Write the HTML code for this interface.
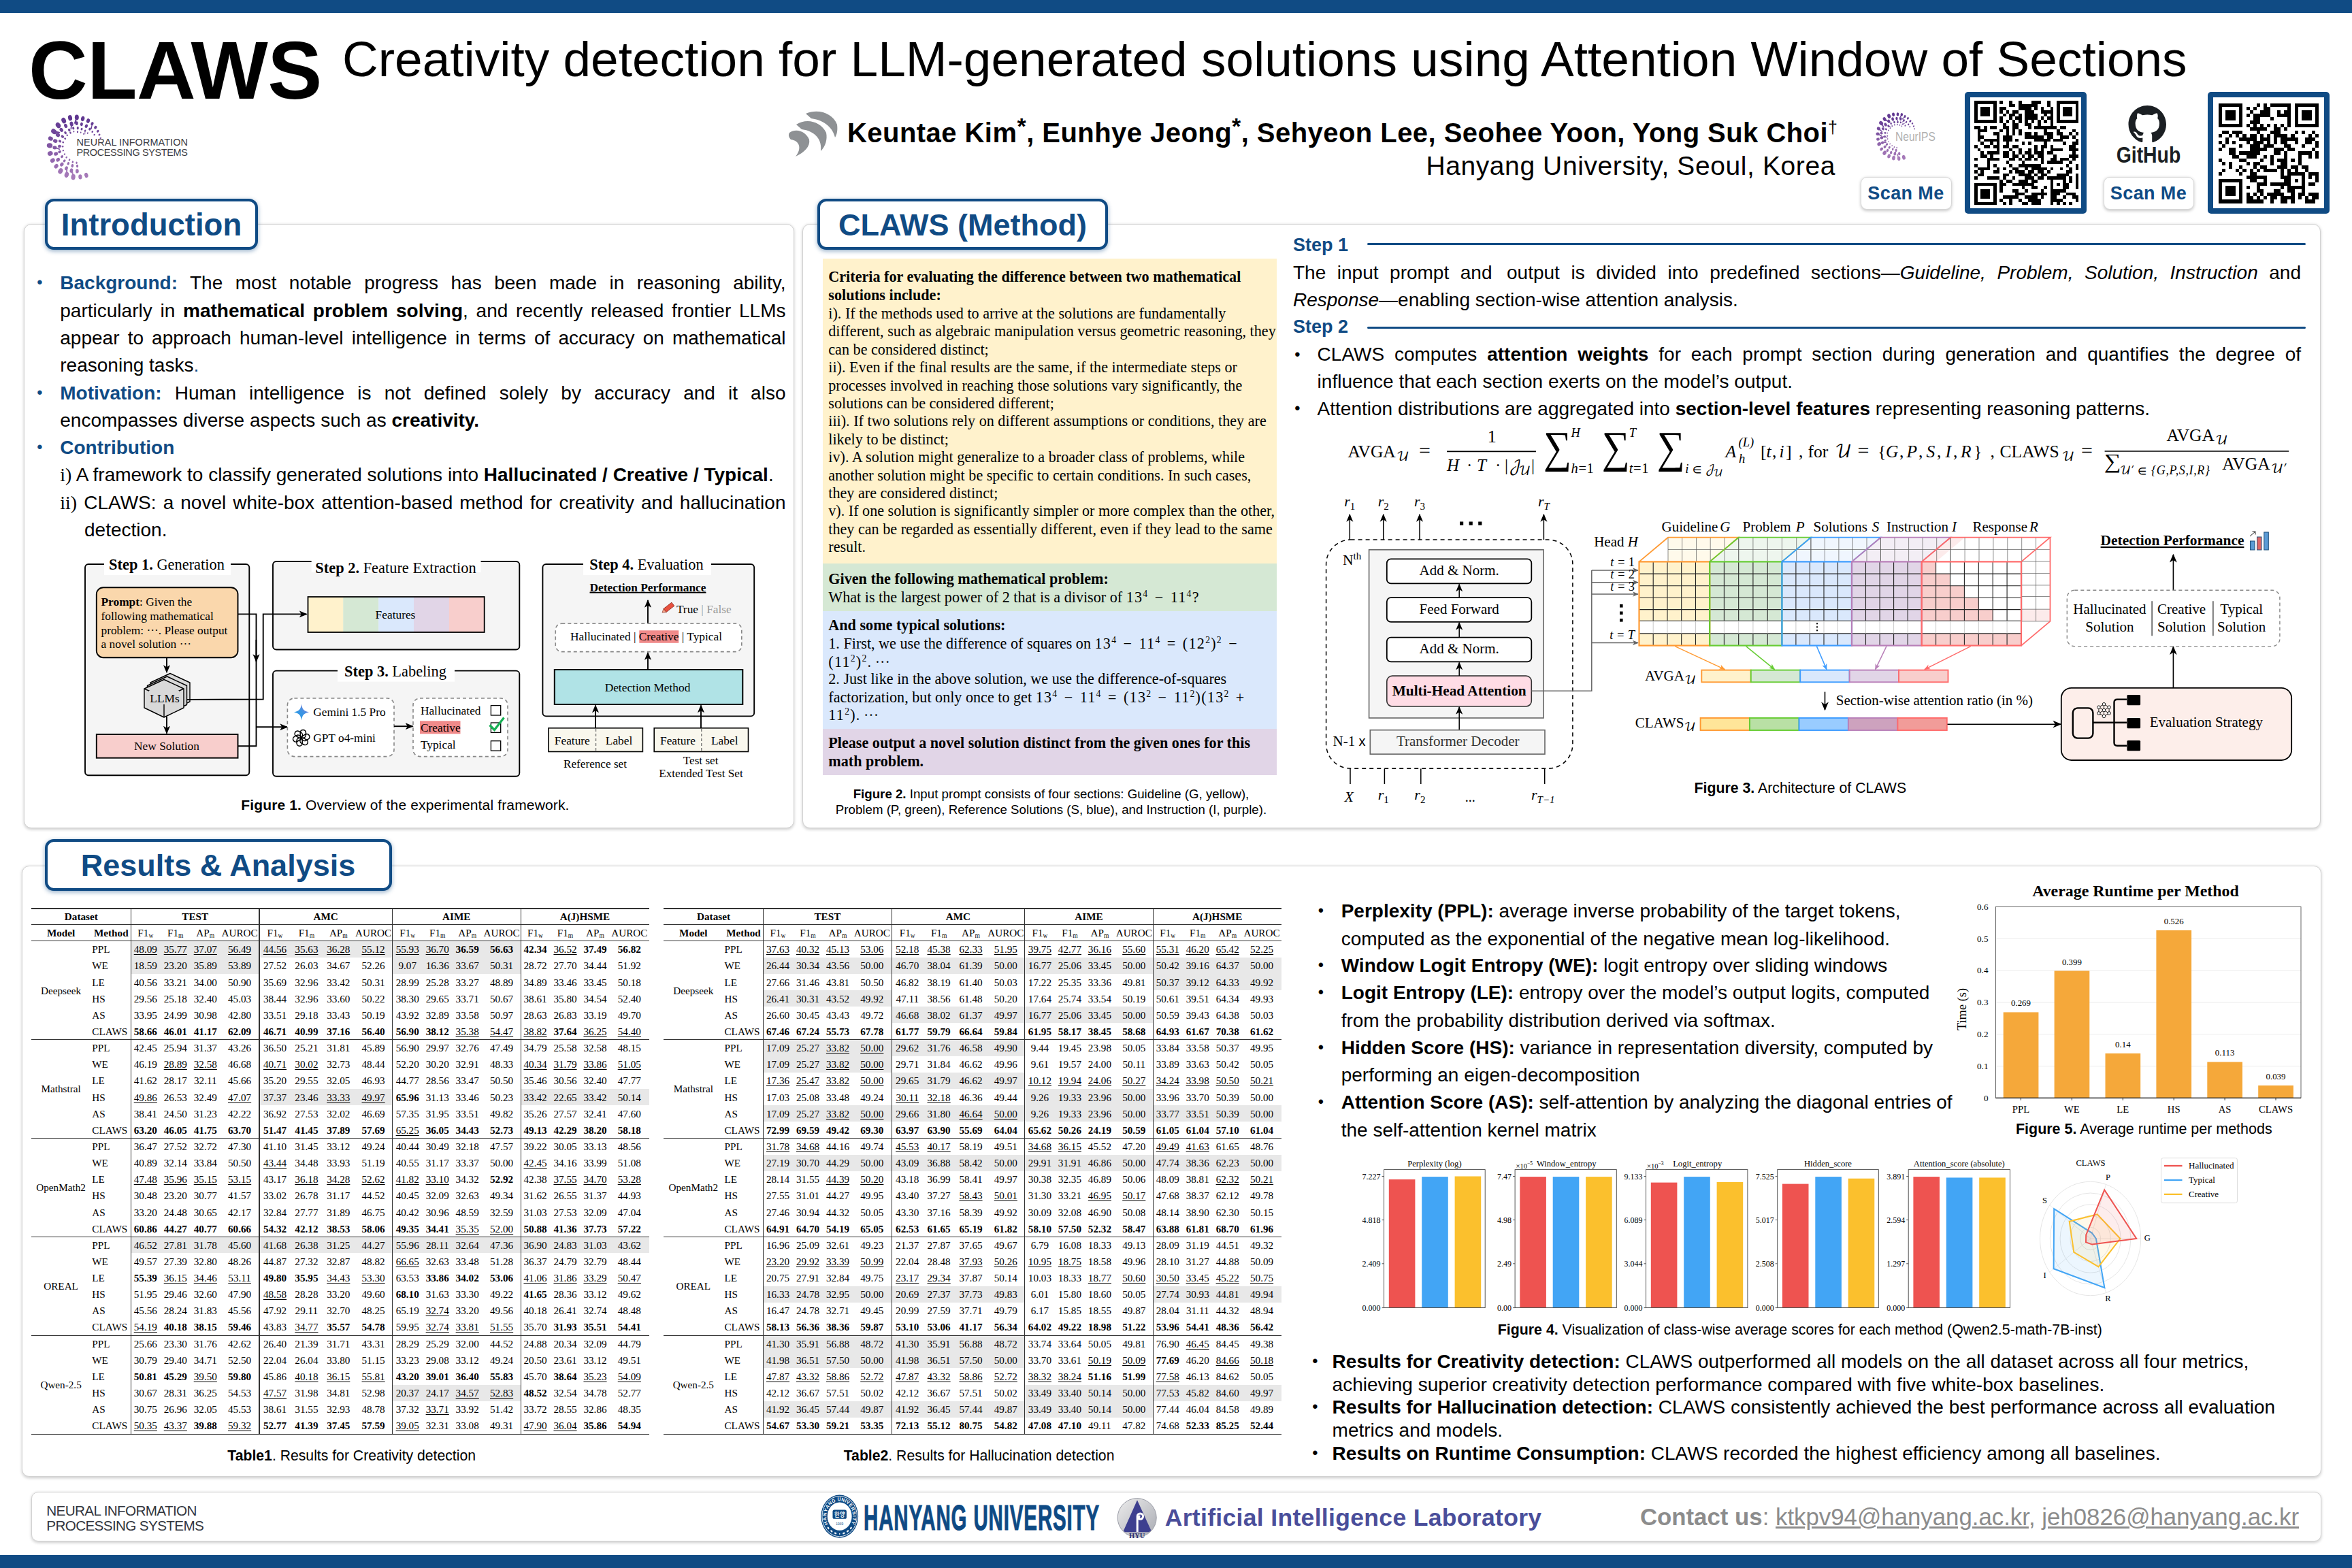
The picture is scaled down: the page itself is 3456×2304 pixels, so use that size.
<!DOCTYPE html>
<html lang="en">
<head>
<meta charset="utf-8">
<title>CLAWS: Creativity detection for LLM-generated solutions using Attention Window of Sections</title>
<style>
html,body{margin:0;padding:0;}
body{width:3456px;height:2304px;overflow:hidden;background:#fff;position:relative;font-family:"Liberation Sans",sans-serif;color:#000;}
.abs{position:absolute;}
.sans{font-family:"Liberation Sans",sans-serif;}
.serif{font-family:"Liberation Serif",serif;}
.mth{font-family:"DejaVu Math TeX Gyre","DejaVu Serif",serif;}
.bar{position:absolute;left:0;width:3456px;background:#104b84;}
.panel{position:absolute;background:#fff;border:1.5px solid #d2d2d2;border-radius:11px;box-shadow:0 1.5px 4px rgba(0,0,0,0.2);box-sizing:border-box;}
.tab{position:absolute;background:#fff;border:4.6px solid #104b84;border-radius:13px;box-sizing:border-box;box-shadow:0 2px 6px rgba(16,75,132,0.45);color:#104b84;font-weight:bold;text-align:center;white-space:nowrap;}
.blue{color:#104b84;}
b,.b{font-weight:bold;}
.t{position:absolute;white-space:nowrap;line-height:1;}
.just{text-align:justify;text-align-last:justify;}
svg{position:absolute;overflow:visible;}
svg text{white-space:pre;}
</style>
</head>
<body>
<div class="bar" style="top:0;height:18.5px"></div>
<div class="bar" style="top:2285px;height:19px"></div>
<div class="t sans" style="left:42.0px;top:43.4px;font-size:120px;font-weight:bold;color:#000;letter-spacing:-0.5px;">CLAWS</div>
<div class="t sans" style="left:503.0px;top:50.2px;font-size:73px;font-weight:normal;color:#000;">Creativity detection for LLM-generated solutions using Attention Window of Sections</div>
<svg style="left:70px;top:169px" width="86" height="94" viewBox="-1.05 -1.05 2.1 2.1" preserveAspectRatio="none"><ellipse cx="0.849" cy="-0.292" rx="0.024" ry="0.031" transform="rotate(71 0.849 -0.292)" fill="#784e9e"/><ellipse cx="0.805" cy="-0.400" rx="0.030" ry="0.038" transform="rotate(64 0.805 -0.400)" fill="#744a9c"/><ellipse cx="0.750" cy="-0.518" rx="0.038" ry="0.048" transform="rotate(55 0.750 -0.518)" fill="#6f469a"/><ellipse cx="0.667" cy="-0.642" rx="0.046" ry="0.058" transform="rotate(46 0.667 -0.642)" fill="#6b4197"/><ellipse cx="0.549" cy="-0.765" rx="0.047" ry="0.060" transform="rotate(36 0.549 -0.765)" fill="#663d94"/><line x1="0.549" y1="-0.765" x2="0.516" y2="-0.598" stroke="#663d94" stroke-width="0.030" stroke-linecap="round"/><ellipse cx="0.403" cy="-0.860" rx="0.060" ry="0.076" transform="rotate(25 0.403 -0.860)" fill="#633992"/><ellipse cx="0.211" cy="-0.928" rx="0.065" ry="0.083" transform="rotate(13 0.211 -0.928)" fill="#603791"/><ellipse cx="-0.004" cy="-0.971" rx="0.073" ry="0.092" transform="rotate(-0 -0.004 -0.971)" fill="#5f3690"/><line x1="-0.004" y1="-0.971" x2="-0.074" y2="-0.786" stroke="#5f3690" stroke-width="0.047" stroke-linecap="round"/><ellipse cx="-0.244" cy="-0.955" rx="0.073" ry="0.093" transform="rotate(-14 -0.244 -0.955)" fill="#5f3690"/><ellipse cx="-0.472" cy="-0.870" rx="0.078" ry="0.099" transform="rotate(-28 -0.472 -0.870)" fill="#623992"/><ellipse cx="-0.671" cy="-0.712" rx="0.080" ry="0.101" transform="rotate(-43 -0.671 -0.712)" fill="#683f96"/><ellipse cx="-0.826" cy="-0.509" rx="0.081" ry="0.103" transform="rotate(-58 -0.826 -0.509)" fill="#70469a"/><line x1="-0.826" y1="-0.509" x2="-0.633" y2="-0.473" stroke="#70469a" stroke-width="0.053" stroke-linecap="round"/><ellipse cx="-0.944" cy="-0.277" rx="0.069" ry="0.087" transform="rotate(-74 -0.944 -0.277)" fill="#784e9f"/><ellipse cx="-0.977" cy="-0.048" rx="0.081" ry="0.103" transform="rotate(-87 -0.977 -0.048)" fill="#8156a3"/><ellipse cx="-0.958" cy="0.211" rx="0.075" ry="0.096" transform="rotate(-102 -0.958 0.211)" fill="#8a5fa9"/><ellipse cx="-0.871" cy="0.441" rx="0.068" ry="0.087" transform="rotate(-117 -0.871 0.441)" fill="#9368ae"/><ellipse cx="-0.743" cy="0.631" rx="0.064" ry="0.082" transform="rotate(-130 -0.743 0.631)" fill="#9a6eb2"/><ellipse cx="-0.589" cy="0.789" rx="0.078" ry="0.099" transform="rotate(-143 -0.589 0.789)" fill="#a074b5"/><ellipse cx="-0.368" cy="0.910" rx="0.075" ry="0.095" transform="rotate(-158 -0.368 0.910)" fill="#a478b8"/><line x1="-0.368" y1="0.910" x2="-0.360" y2="0.703" stroke="#a478b8" stroke-width="0.048" stroke-linecap="round"/><ellipse cx="-0.132" cy="0.983" rx="0.076" ry="0.097" transform="rotate(-172 -0.132 0.983)" fill="#a77bb9"/><line x1="-0.132" y1="0.983" x2="-0.175" y2="0.770" stroke="#a77bb9" stroke-width="0.049" stroke-linecap="round"/><ellipse cx="0.120" cy="0.981" rx="0.065" ry="0.082" transform="rotate(-187 0.120 0.981)" fill="#a77bb9"/><ellipse cx="0.337" cy="0.928" rx="0.065" ry="0.083" transform="rotate(-200 0.337 0.928)" fill="#a579b8"/><ellipse cx="0.627" cy="-0.401" rx="0.026" ry="0.032" transform="rotate(57 0.627 -0.401)" fill="#744a9c"/><ellipse cx="0.556" cy="-0.501" rx="0.028" ry="0.036" transform="rotate(48 0.556 -0.501)" fill="#70469a"/><ellipse cx="0.463" cy="-0.590" rx="0.040" ry="0.050" transform="rotate(38 0.463 -0.590)" fill="#6d4398"/><ellipse cx="0.338" cy="-0.685" rx="0.050" ry="0.063" transform="rotate(26 0.338 -0.685)" fill="#694096"/><ellipse cx="0.168" cy="-0.746" rx="0.048" ry="0.061" transform="rotate(13 0.168 -0.746)" fill="#673e95"/><ellipse cx="-0.008" cy="-0.779" rx="0.051" ry="0.064" transform="rotate(-1 -0.008 -0.779)" fill="#663c94"/><ellipse cx="-0.193" cy="-0.757" rx="0.062" ry="0.079" transform="rotate(-14 -0.193 -0.757)" fill="#663d95"/><line x1="-0.193" y1="-0.757" x2="-0.210" y2="-0.594" stroke="#663d95" stroke-width="0.040" stroke-linecap="round"/><ellipse cx="-0.400" cy="-0.694" rx="0.057" ry="0.073" transform="rotate(-30 -0.400 -0.694)" fill="#693f96"/><ellipse cx="-0.556" cy="-0.560" rx="0.058" ry="0.074" transform="rotate(-45 -0.556 -0.560)" fill="#6e4499"/><ellipse cx="-0.685" cy="-0.398" rx="0.063" ry="0.080" transform="rotate(-60 -0.685 -0.398)" fill="#744a9c"/><ellipse cx="-0.776" cy="-0.199" rx="0.062" ry="0.079" transform="rotate(-76 -0.776 -0.199)" fill="#7b51a0"/><ellipse cx="-0.795" cy="0.018" rx="0.059" ry="0.075" transform="rotate(-91 -0.795 0.018)" fill="#8359a5"/><line x1="-0.795" y1="0.018" x2="-0.626" y2="0.071" stroke="#8359a5" stroke-width="0.038" stroke-linecap="round"/><ellipse cx="-0.752" cy="0.223" rx="0.059" ry="0.075" transform="rotate(-106 -0.752 0.223)" fill="#8b60a9"/><ellipse cx="-0.678" cy="0.419" rx="0.058" ry="0.073" transform="rotate(-122 -0.678 0.419)" fill="#9267ad"/><ellipse cx="-0.541" cy="0.572" rx="0.057" ry="0.073" transform="rotate(-137 -0.541 0.572)" fill="#986cb1"/><ellipse cx="-0.379" cy="0.697" rx="0.054" ry="0.069" transform="rotate(-151 -0.379 0.697)" fill="#9c71b3"/><ellipse cx="-0.197" cy="0.775" rx="0.058" ry="0.074" transform="rotate(-166 -0.197 0.775)" fill="#9f74b5"/><ellipse cx="0.010" cy="0.790" rx="0.057" ry="0.072" transform="rotate(-181 0.010 0.790)" fill="#a074b5"/><ellipse cx="0.385" cy="-0.456" rx="0.023" ry="0.029" transform="rotate(40 0.385 -0.456)" fill="#72489b"/><ellipse cx="0.295" cy="-0.534" rx="0.029" ry="0.037" transform="rotate(29 0.295 -0.534)" fill="#6f4599"/><line x1="0.295" y1="-0.534" x2="0.286" y2="-0.422" stroke="#6f4599" stroke-width="0.019" stroke-linecap="round"/><ellipse cx="0.173" cy="-0.588" rx="0.034" ry="0.043" transform="rotate(16 0.173 -0.588)" fill="#6d4398"/><ellipse cx="0.031" cy="-0.621" rx="0.038" ry="0.049" transform="rotate(3 0.031 -0.621)" fill="#6c4297"/><ellipse cx="-0.128" cy="-0.618" rx="0.038" ry="0.048" transform="rotate(-12 -0.128 -0.618)" fill="#6c4298"/><ellipse cx="-0.275" cy="-0.559" rx="0.041" ry="0.052" transform="rotate(-26 -0.275 -0.559)" fill="#6e4499"/><ellipse cx="-0.412" cy="-0.467" rx="0.040" ry="0.051" transform="rotate(-41 -0.412 -0.467)" fill="#71479b"/><ellipse cx="-0.517" cy="-0.343" rx="0.046" ry="0.058" transform="rotate(-56 -0.517 -0.343)" fill="#764c9d"/><ellipse cx="-0.609" cy="-0.191" rx="0.042" ry="0.053" transform="rotate(-73 -0.609 -0.191)" fill="#7b51a0"/><ellipse cx="-0.622" cy="-0.023" rx="0.048" ry="0.061" transform="rotate(-88 -0.622 -0.023)" fill="#8257a4"/><ellipse cx="-0.619" cy="0.160" rx="0.045" ry="0.058" transform="rotate(-104 -0.619 0.160)" fill="#885ea8"/><ellipse cx="-0.535" cy="0.315" rx="0.040" ry="0.051" transform="rotate(-121 -0.535 0.315)" fill="#8e63ab"/><ellipse cx="-0.447" cy="0.455" rx="0.040" ry="0.051" transform="rotate(-136 -0.447 0.455)" fill="#9368ae"/><ellipse cx="-0.309" cy="0.543" rx="0.040" ry="0.051" transform="rotate(-150 -0.309 0.543)" fill="#976bb0"/><ellipse cx="-0.162" cy="0.616" rx="0.045" ry="0.057" transform="rotate(-165 -0.162 0.616)" fill="#996eb1"/><ellipse cx="0.014" cy="0.625" rx="0.039" ry="0.050" transform="rotate(-181 0.014 0.625)" fill="#9a6eb2"/><ellipse cx="0.237" cy="-0.429" rx="0.018" ry="0.023" transform="rotate(29 0.237 -0.429)" fill="#73499b"/><ellipse cx="0.139" cy="-0.477" rx="0.021" ry="0.027" transform="rotate(16 0.139 -0.477)" fill="#71479a"/><ellipse cx="0.024" cy="-0.497" rx="0.028" ry="0.035" transform="rotate(3 0.024 -0.497)" fill="#70469a"/><ellipse cx="-0.112" cy="-0.508" rx="0.023" ry="0.029" transform="rotate(-12 -0.112 -0.508)" fill="#70469a"/><ellipse cx="-0.232" cy="-0.467" rx="0.030" ry="0.038" transform="rotate(-26 -0.232 -0.467)" fill="#71479b"/><ellipse cx="-0.349" cy="-0.386" rx="0.026" ry="0.033" transform="rotate(-42 -0.349 -0.386)" fill="#744a9c"/><ellipse cx="-0.422" cy="-0.275" rx="0.030" ry="0.038" transform="rotate(-57 -0.422 -0.275)" fill="#784e9f"/><ellipse cx="-0.495" cy="-0.154" rx="0.029" ry="0.036" transform="rotate(-73 -0.495 -0.154)" fill="#7d53a1"/><ellipse cx="-0.510" cy="-0.017" rx="0.028" ry="0.036" transform="rotate(-88 -0.510 -0.017)" fill="#8257a4"/><ellipse cx="-0.492" cy="0.117" rx="0.025" ry="0.032" transform="rotate(-103 -0.492 0.117)" fill="#875ca7"/><ellipse cx="-0.441" cy="0.234" rx="0.025" ry="0.031" transform="rotate(-118 -0.441 0.234)" fill="#8b60a9"/><ellipse cx="-0.373" cy="0.340" rx="0.027" ry="0.035" transform="rotate(-132 -0.373 0.340)" fill="#8f64ac"/><ellipse cx="-0.268" cy="0.421" rx="0.029" ry="0.037" transform="rotate(-147 -0.268 0.421)" fill="#9267ad"/><ellipse cx="-0.150" cy="0.492" rx="0.030" ry="0.038" transform="rotate(-163 -0.150 0.492)" fill="#9569af"/><ellipse cx="-0.011" cy="0.519" rx="0.030" ry="0.038" transform="rotate(-179 -0.011 0.519)" fill="#966aaf"/></svg>
<div class="t sans" style="left:112.5px;top:201.6px;font-size:14.4px;font-weight:normal;color:#3a3a3f;letter-spacing:0.11px;">NEURAL INFORMATION</div>
<div class="t sans" style="left:112.5px;top:217.4px;font-size:14.4px;font-weight:normal;color:#3a3a3f;letter-spacing:-0.32px;">PROCESSING SYSTEMS</div>
<svg style="left:1158px;top:161px" width="74" height="70" viewBox="0 0 74 70">
<g fill="#8e9194">
<path d="M26 6 C45 -2 66 6 72 22 C73 30 72 36 69 41 C66 28 55 16 34 13 Z"/>
<path d="M12 22 C28 12 48 18 56 34 C58 44 55 54 48 61 C50 46 42 32 20 29 Z"/>
<path d="M2 34 C12 27 26 32 31 44 C33 54 24 63 11 69 C20 58 18 46 4 44 C1 41 0 37 2 34 Z"/>
</g></svg>
<div class="t sans" style="left:1245.0px;top:174.9px;font-size:40px;font-weight:bold;color:#000;letter-spacing:0.45px;">Keuntae Kim<sup style="font-size:34px;vertical-align:0;position:relative;top:-12px;line-height:0">*</sup>, Eunhye Jeong<sup style="font-size:34px;vertical-align:0;position:relative;top:-12px;line-height:0">*</sup>, Sehyeon Lee, Seohee Yoon, Yong Suk Choi<span style="font-size:25px;font-weight:normal;position:relative;top:-13px;line-height:0">†</span></div>
<div class="t sans" style="right:759.0px;top:224.0px;font-size:39px;font-weight:normal;color:#000;letter-spacing:0.6px;">Hanyang University, Seoul, Korea</div>
<svg style="left:2757px;top:165px" width="62" height="70" viewBox="-1.05 -1.05 2.1 2.1" preserveAspectRatio="none"><ellipse cx="0.852" cy="-0.318" rx="0.027" ry="0.034" transform="rotate(70 0.852 -0.318)" fill="#774d9e"/><ellipse cx="0.811" cy="-0.436" rx="0.032" ry="0.041" transform="rotate(62 0.811 -0.436)" fill="#72499b"/><ellipse cx="0.745" cy="-0.557" rx="0.036" ry="0.045" transform="rotate(53 0.745 -0.557)" fill="#6e4499"/><ellipse cx="0.641" cy="-0.659" rx="0.046" ry="0.059" transform="rotate(44 0.641 -0.659)" fill="#6a4197"/><ellipse cx="0.523" cy="-0.782" rx="0.045" ry="0.057" transform="rotate(34 0.523 -0.782)" fill="#663c94"/><ellipse cx="0.375" cy="-0.866" rx="0.048" ry="0.061" transform="rotate(23 0.375 -0.866)" fill="#623992"/><line x1="0.375" y1="-0.866" x2="0.248" y2="-0.750" stroke="#623992" stroke-width="0.031" stroke-linecap="round"/><ellipse cx="0.214" cy="-0.945" rx="0.056" ry="0.072" transform="rotate(13 0.214 -0.945)" fill="#603691"/><line x1="0.214" y1="-0.945" x2="0.104" y2="-0.783" stroke="#603691" stroke-width="0.037" stroke-linecap="round"/><ellipse cx="0.015" cy="-0.962" rx="0.063" ry="0.080" transform="rotate(1 0.015 -0.962)" fill="#5f3690"/><ellipse cx="-0.200" cy="-0.952" rx="0.068" ry="0.086" transform="rotate(-12 -0.200 -0.952)" fill="#5f3690"/><ellipse cx="-0.416" cy="-0.882" rx="0.081" ry="0.103" transform="rotate(-25 -0.416 -0.882)" fill="#623992"/><ellipse cx="-0.640" cy="-0.748" rx="0.074" ry="0.095" transform="rotate(-41 -0.640 -0.748)" fill="#673d95"/><line x1="-0.640" y1="-0.748" x2="-0.457" y2="-0.644" stroke="#673d95" stroke-width="0.048" stroke-linecap="round"/><ellipse cx="-0.809" cy="-0.569" rx="0.083" ry="0.106" transform="rotate(-55 -0.809 -0.569)" fill="#6d4499"/><line x1="-0.809" y1="-0.569" x2="-0.684" y2="-0.395" stroke="#6d4499" stroke-width="0.054" stroke-linecap="round"/><ellipse cx="-0.933" cy="-0.332" rx="0.072" ry="0.091" transform="rotate(-70 -0.933 -0.332)" fill="#764c9e"/><line x1="-0.933" y1="-0.332" x2="-0.765" y2="-0.197" stroke="#764c9e" stroke-width="0.047" stroke-linecap="round"/><ellipse cx="-0.978" cy="-0.096" rx="0.070" ry="0.089" transform="rotate(-84 -0.978 -0.096)" fill="#7f55a2"/><line x1="-0.978" y1="-0.096" x2="-0.790" y2="-0.006" stroke="#7f55a2" stroke-width="0.045" stroke-linecap="round"/><ellipse cx="-0.967" cy="0.137" rx="0.065" ry="0.082" transform="rotate(-98 -0.967 0.137)" fill="#885da7"/><ellipse cx="-0.907" cy="0.350" rx="0.078" ry="0.099" transform="rotate(-111 -0.907 0.350)" fill="#8f64ac"/><ellipse cx="-0.790" cy="0.571" rx="0.067" ry="0.085" transform="rotate(-126 -0.790 0.571)" fill="#986cb0"/><ellipse cx="-0.638" cy="0.739" rx="0.083" ry="0.105" transform="rotate(-139 -0.638 0.739)" fill="#9e72b4"/><ellipse cx="-0.419" cy="0.884" rx="0.075" ry="0.095" transform="rotate(-155 -0.419 0.884)" fill="#a377b7"/><ellipse cx="-0.186" cy="0.961" rx="0.081" ry="0.102" transform="rotate(-169 -0.186 0.961)" fill="#a67ab9"/><ellipse cx="0.073" cy="0.988" rx="0.076" ry="0.097" transform="rotate(-184 0.073 0.988)" fill="#a77bb9"/><line x1="0.073" y1="0.988" x2="-0.013" y2="0.790" stroke="#a77bb9" stroke-width="0.049" stroke-linecap="round"/><ellipse cx="0.319" cy="0.938" rx="0.082" ry="0.105" transform="rotate(-199 0.319 0.938)" fill="#a579b8"/><ellipse cx="0.622" cy="-0.410" rx="0.028" ry="0.035" transform="rotate(57 0.622 -0.410)" fill="#73499c"/><ellipse cx="0.549" cy="-0.516" rx="0.035" ry="0.044" transform="rotate(47 0.549 -0.516)" fill="#6f469a"/><ellipse cx="0.448" cy="-0.622" rx="0.034" ry="0.043" transform="rotate(36 0.448 -0.622)" fill="#6b4297"/><line x1="0.448" y1="-0.622" x2="0.320" y2="-0.542" stroke="#6b4297" stroke-width="0.022" stroke-linecap="round"/><ellipse cx="0.321" cy="-0.691" rx="0.045" ry="0.057" transform="rotate(25 0.321 -0.691)" fill="#693f96"/><line x1="0.321" y1="-0.691" x2="0.213" y2="-0.593" stroke="#693f96" stroke-width="0.029" stroke-linecap="round"/><ellipse cx="0.164" cy="-0.759" rx="0.057" ry="0.073" transform="rotate(12 0.164 -0.759)" fill="#663d95"/><ellipse cx="-0.036" cy="-0.780" rx="0.056" ry="0.071" transform="rotate(-3 -0.036 -0.780)" fill="#663c94"/><line x1="-0.036" y1="-0.780" x2="0.028" y2="-0.629" stroke="#663c94" stroke-width="0.036" stroke-linecap="round"/><ellipse cx="-0.234" cy="-0.750" rx="0.064" ry="0.081" transform="rotate(-17 -0.234 -0.750)" fill="#673d95"/><ellipse cx="-0.428" cy="-0.652" rx="0.064" ry="0.081" transform="rotate(-33 -0.428 -0.652)" fill="#6a4197"/><ellipse cx="-0.590" cy="-0.508" rx="0.067" ry="0.085" transform="rotate(-49 -0.590 -0.508)" fill="#70469a"/><ellipse cx="-0.715" cy="-0.321" rx="0.058" ry="0.073" transform="rotate(-66 -0.715 -0.321)" fill="#774d9e"/><ellipse cx="-0.791" cy="-0.129" rx="0.054" ry="0.069" transform="rotate(-81 -0.791 -0.129)" fill="#7e53a2"/><ellipse cx="-0.783" cy="0.070" rx="0.065" ry="0.083" transform="rotate(-95 -0.783 0.070)" fill="#855aa6"/><line x1="-0.783" y1="0.070" x2="-0.630" y2="-0.000" stroke="#855aa6" stroke-width="0.042" stroke-linecap="round"/><ellipse cx="-0.742" cy="0.290" rx="0.062" ry="0.079" transform="rotate(-111 -0.742 0.290)" fill="#8d62ab"/><line x1="-0.742" y1="0.290" x2="-0.564" y2="0.281" stroke="#8d62ab" stroke-width="0.040" stroke-linecap="round"/><ellipse cx="-0.622" cy="0.470" rx="0.058" ry="0.074" transform="rotate(-127 -0.622 0.470)" fill="#9469ae"/><ellipse cx="-0.492" cy="0.631" rx="0.054" ry="0.069" transform="rotate(-142 -0.492 0.631)" fill="#9a6eb2"/><ellipse cx="-0.316" cy="0.725" rx="0.055" ry="0.070" transform="rotate(-156 -0.316 0.725)" fill="#9d72b4"/><ellipse cx="-0.125" cy="0.776" rx="0.063" ry="0.081" transform="rotate(-171 -0.125 0.776)" fill="#9f74b5"/><line x1="-0.125" y1="0.776" x2="-0.044" y2="0.628" stroke="#9f74b5" stroke-width="0.041" stroke-linecap="round"/><ellipse cx="0.092" cy="0.776" rx="0.059" ry="0.075" transform="rotate(-187 0.092 0.776)" fill="#9f74b5"/><ellipse cx="0.388" cy="-0.462" rx="0.030" ry="0.038" transform="rotate(40 0.388 -0.462)" fill="#71489b"/><ellipse cx="0.275" cy="-0.532" rx="0.030" ry="0.038" transform="rotate(27 0.275 -0.532)" fill="#6f4599"/><line x1="0.275" y1="-0.532" x2="0.193" y2="-0.472" stroke="#6f4599" stroke-width="0.019" stroke-linecap="round"/><ellipse cx="0.157" cy="-0.604" rx="0.032" ry="0.040" transform="rotate(15 0.157 -0.604)" fill="#6c4398"/><ellipse cx="0.016" cy="-0.614" rx="0.042" ry="0.054" transform="rotate(1 0.016 -0.614)" fill="#6c4298"/><ellipse cx="-0.153" cy="-0.615" rx="0.044" ry="0.056" transform="rotate(-14 -0.153 -0.615)" fill="#6c4298"/><ellipse cx="-0.319" cy="-0.557" rx="0.041" ry="0.052" transform="rotate(-30 -0.319 -0.557)" fill="#6e4499"/><ellipse cx="-0.442" cy="-0.444" rx="0.049" ry="0.062" transform="rotate(-45 -0.442 -0.444)" fill="#72489b"/><line x1="-0.442" y1="-0.444" x2="-0.326" y2="-0.392" stroke="#72489b" stroke-width="0.032" stroke-linecap="round"/><ellipse cx="-0.560" cy="-0.302" rx="0.043" ry="0.055" transform="rotate(-62 -0.560 -0.302)" fill="#774d9e"/><ellipse cx="-0.610" cy="-0.137" rx="0.041" ry="0.052" transform="rotate(-77 -0.610 -0.137)" fill="#7d53a2"/><ellipse cx="-0.626" cy="0.026" rx="0.046" ry="0.058" transform="rotate(-92 -0.626 0.026)" fill="#8359a5"/><line x1="-0.626" y1="0.026" x2="-0.506" y2="0.067" stroke="#8359a5" stroke-width="0.030" stroke-linecap="round"/><ellipse cx="-0.605" cy="0.203" rx="0.046" ry="0.059" transform="rotate(-109 -0.605 0.203)" fill="#8a5fa9"/><ellipse cx="-0.524" cy="0.365" rx="0.048" ry="0.061" transform="rotate(-125 -0.524 0.365)" fill="#9065ac"/><ellipse cx="-0.400" cy="0.501" rx="0.049" ry="0.063" transform="rotate(-141 -0.400 0.501)" fill="#956aaf"/><ellipse cx="-0.230" cy="0.578" rx="0.044" ry="0.056" transform="rotate(-158 -0.230 0.578)" fill="#986db1"/><ellipse cx="-0.065" cy="0.626" rx="0.049" ry="0.062" transform="rotate(-174 -0.065 0.626)" fill="#9a6eb2"/><ellipse cx="0.221" cy="-0.432" rx="0.020" ry="0.026" transform="rotate(27 0.221 -0.432)" fill="#73499b"/><ellipse cx="0.120" cy="-0.487" rx="0.024" ry="0.031" transform="rotate(14 0.120 -0.487)" fill="#70479a"/><ellipse cx="-0.003" cy="-0.506" rx="0.027" ry="0.034" transform="rotate(-0 -0.003 -0.506)" fill="#70469a"/><ellipse cx="-0.137" cy="-0.498" rx="0.028" ry="0.035" transform="rotate(-15 -0.137 -0.498)" fill="#70469a"/><ellipse cx="-0.262" cy="-0.444" rx="0.028" ry="0.035" transform="rotate(-31 -0.262 -0.444)" fill="#72489b"/><ellipse cx="-0.360" cy="-0.350" rx="0.023" ry="0.030" transform="rotate(-46 -0.360 -0.350)" fill="#764c9d"/><ellipse cx="-0.444" cy="-0.258" rx="0.026" ry="0.033" transform="rotate(-60 -0.444 -0.258)" fill="#794f9f"/><ellipse cx="-0.496" cy="-0.136" rx="0.025" ry="0.031" transform="rotate(-75 -0.496 -0.136)" fill="#7d53a2"/><ellipse cx="-0.499" cy="-0.008" rx="0.028" ry="0.035" transform="rotate(-89 -0.499 -0.008)" fill="#8258a4"/><ellipse cx="-0.488" cy="0.124" rx="0.027" ry="0.034" transform="rotate(-104 -0.488 0.124)" fill="#875ca7"/><ellipse cx="-0.438" cy="0.244" rx="0.024" ry="0.030" transform="rotate(-119 -0.438 0.244)" fill="#8c61aa"/><ellipse cx="-0.366" cy="0.344" rx="0.025" ry="0.032" transform="rotate(-133 -0.366 0.344)" fill="#8f64ac"/><ellipse cx="-0.266" cy="0.422" rx="0.025" ry="0.031" transform="rotate(-148 -0.266 0.422)" fill="#9267ad"/><ellipse cx="-0.156" cy="0.483" rx="0.027" ry="0.034" transform="rotate(-162 -0.156 0.483)" fill="#9469af"/><ellipse cx="-0.027" cy="0.511" rx="0.028" ry="0.035" transform="rotate(-177 -0.027 0.511)" fill="#956aaf"/></svg>
<div class="t sans" style="left:2785.0px;top:191.3px;font-size:19px;font-weight:normal;color:#b0b0b0;transform:scaleX(0.82);transform-origin:left;">NeurIPS</div>
<div class="abs" style="left:2733.5px;top:259.5px;width:134.0px;height:48.5px;box-sizing:border-box;border:1.5px solid #d8d8d8;border-radius:9px;background:#fff;box-shadow:0 1.5px 4px rgba(0,0,0,0.22);"></div>
<div class="t sans" style="left:2800.5px;transform:translateX(-50%);top:270.7px;font-size:27px;font-weight:bold;color:#104b84;letter-spacing:0.4px;">Scan Me</div>
<div class="abs" style="left:3090.5px;top:259.5px;width:133.0px;height:48.5px;box-sizing:border-box;border:1.5px solid #d8d8d8;border-radius:9px;background:#fff;box-shadow:0 1.5px 4px rgba(0,0,0,0.22);"></div>
<div class="t sans" style="left:3157.0px;transform:translateX(-50%);top:270.7px;font-size:27px;font-weight:bold;color:#104b84;letter-spacing:0.4px;">Scan Me</div>
<div class="abs" style="left:2887px;top:134.5px;width:179px;height:179.5px;background:#104b84;border-radius:5px;"></div><div class="abs" style="left:2895px;top:142.5px;width:163px;height:163.5px;background:#fff;"></div>
<svg style="left:2901px;top:148.3px" width="153.5" height="153.3" viewBox="0 0 33 33" shape-rendering="crispEdges"><path fill="#000" d="M0 0h7v1h-7zM8 0h1v1h-1zM11 0h1v1h-1zM14 0h1v1h-1zM18 0h3v1h-3zM23 0h1v1h-1zM26 0h7v1h-7zM0 1h1v1h-1zM6 1h1v1h-1zM11 1h2v1h-2zM14 1h6v1h-6zM23 1h1v1h-1zM26 1h1v1h-1zM32 1h1v1h-1zM0 2h1v1h-1zM2 2h3v1h-3zM6 2h1v1h-1zM8 2h2v1h-2zM14 2h4v1h-4zM19 2h1v1h-1zM21 2h1v1h-1zM24 2h1v1h-1zM26 2h1v1h-1zM28 2h3v1h-3zM32 2h1v1h-1zM0 3h1v1h-1zM2 3h3v1h-3zM6 3h1v1h-1zM8 3h1v1h-1zM10 3h1v1h-1zM12 3h2v1h-2zM16 3h3v1h-3zM21 3h4v1h-4zM26 3h1v1h-1zM28 3h3v1h-3zM32 3h1v1h-1zM0 4h1v1h-1zM2 4h3v1h-3zM6 4h1v1h-1zM9 4h1v1h-1zM11 4h2v1h-2zM14 4h1v1h-1zM16 4h4v1h-4zM22 4h1v1h-1zM24 4h1v1h-1zM26 4h1v1h-1zM28 4h3v1h-3zM32 4h1v1h-1zM0 5h1v1h-1zM6 5h1v1h-1zM8 5h1v1h-1zM11 5h1v1h-1zM13 5h2v1h-2zM16 5h4v1h-4zM21 5h1v1h-1zM23 5h2v1h-2zM26 5h1v1h-1zM32 5h1v1h-1zM0 6h7v1h-7zM8 6h1v1h-1zM10 6h1v1h-1zM12 6h1v1h-1zM14 6h1v1h-1zM16 6h1v1h-1zM18 6h1v1h-1zM20 6h1v1h-1zM22 6h1v1h-1zM24 6h1v1h-1zM26 6h7v1h-7zM9 7h1v1h-1zM12 7h2v1h-2zM16 7h2v1h-2zM20 7h1v1h-1zM24 7h1v1h-1zM0 8h2v1h-2zM3 8h1v1h-1zM5 8h2v1h-2zM9 8h2v1h-2zM12 8h2v1h-2zM17 8h1v1h-1zM19 8h7v1h-7zM27 8h2v1h-2zM1 9h3v1h-3zM8 9h1v1h-1zM10 9h1v1h-1zM12 9h1v1h-1zM14 9h1v1h-1zM22 9h1v1h-1zM26 9h1v1h-1zM31 9h1v1h-1zM1 10h1v1h-1zM6 10h2v1h-2zM10 10h1v1h-1zM12 10h1v1h-1zM14 10h1v1h-1zM16 10h2v1h-2zM19 10h1v1h-1zM22 10h3v1h-3zM26 10h2v1h-2zM30 10h1v1h-1zM32 10h1v1h-1zM1 11h2v1h-2zM7 11h1v1h-1zM9 11h3v1h-3zM16 11h6v1h-6zM23 11h2v1h-2zM27 11h3v1h-3zM31 11h1v1h-1zM1 12h1v1h-1zM3 12h5v1h-5zM9 12h3v1h-3zM13 12h1v1h-1zM19 12h5v1h-5zM25 12h3v1h-3zM32 12h1v1h-1zM2 13h1v1h-1zM5 13h1v1h-1zM7 13h1v1h-1zM10 13h1v1h-1zM15 13h1v1h-1zM17 13h1v1h-1zM22 13h1v1h-1zM28 13h1v1h-1zM31 13h2v1h-2zM0 14h1v1h-1zM3 14h2v1h-2zM6 14h2v1h-2zM9 14h2v1h-2zM12 14h2v1h-2zM19 14h1v1h-1zM21 14h2v1h-2zM24 14h1v1h-1zM30 14h2v1h-2zM1 15h1v1h-1zM7 15h1v1h-1zM11 15h1v1h-1zM14 15h1v1h-1zM17 15h1v1h-1zM19 15h1v1h-1zM21 15h1v1h-1zM24 15h4v1h-4zM30 15h3v1h-3zM2 16h1v1h-1zM4 16h4v1h-4zM9 16h2v1h-2zM12 16h1v1h-1zM14 16h1v1h-1zM16 16h2v1h-2zM19 16h3v1h-3zM23 16h2v1h-2zM31 16h1v1h-1zM2 17h2v1h-2zM5 17h1v1h-1zM9 17h2v1h-2zM12 17h2v1h-2zM15 17h1v1h-1zM17 17h2v1h-2zM20 17h2v1h-2zM25 17h1v1h-1zM30 17h3v1h-3zM0 18h1v1h-1zM4 18h4v1h-4zM11 18h2v1h-2zM14 18h1v1h-1zM16 18h2v1h-2zM19 18h1v1h-1zM21 18h1v1h-1zM24 18h2v1h-2zM27 18h3v1h-3zM31 18h1v1h-1zM4 19h1v1h-1zM10 19h1v1h-1zM15 19h1v1h-1zM21 19h1v1h-1zM23 19h5v1h-5zM30 19h1v1h-1zM0 20h1v1h-1zM4 20h1v1h-1zM6 20h1v1h-1zM11 20h1v1h-1zM14 20h7v1h-7zM29 20h1v1h-1zM32 20h1v1h-1zM1 21h4v1h-4zM7 21h1v1h-1zM9 21h1v1h-1zM12 21h2v1h-2zM16 21h1v1h-1zM18 21h5v1h-5zM24 21h1v1h-1zM27 21h1v1h-1zM30 21h1v1h-1zM32 21h1v1h-1zM0 22h1v1h-1zM2 22h1v1h-1zM6 22h2v1h-2zM11 22h1v1h-1zM13 22h3v1h-3zM17 22h2v1h-2zM20 22h2v1h-2zM23 22h1v1h-1zM29 22h2v1h-2zM1 23h2v1h-2zM9 23h2v1h-2zM14 23h4v1h-4zM19 23h1v1h-1zM21 23h2v1h-2zM26 23h4v1h-4zM32 23h1v1h-1zM0 24h1v1h-1zM4 24h4v1h-4zM9 24h1v1h-1zM12 24h1v1h-1zM16 24h3v1h-3zM20 24h2v1h-2zM23 24h6v1h-6zM30 24h1v1h-1zM32 24h1v1h-1zM8 25h1v1h-1zM10 25h2v1h-2zM14 25h3v1h-3zM18 25h2v1h-2zM24 25h1v1h-1zM28 25h1v1h-1zM30 25h1v1h-1zM32 25h1v1h-1zM0 26h7v1h-7zM8 26h2v1h-2zM12 26h7v1h-7zM24 26h1v1h-1zM26 26h1v1h-1zM28 26h2v1h-2zM32 26h1v1h-1zM0 27h1v1h-1zM6 27h1v1h-1zM8 27h1v1h-1zM15 27h1v1h-1zM18 27h2v1h-2zM22 27h1v1h-1zM24 27h1v1h-1zM28 27h2v1h-2zM32 27h1v1h-1zM0 28h1v1h-1zM2 28h3v1h-3zM6 28h1v1h-1zM8 28h1v1h-1zM12 28h2v1h-2zM16 28h1v1h-1zM21 28h1v1h-1zM24 28h5v1h-5zM0 29h1v1h-1zM2 29h3v1h-3zM6 29h1v1h-1zM13 29h3v1h-3zM18 29h5v1h-5zM24 29h3v1h-3zM29 29h3v1h-3zM0 30h1v1h-1zM2 30h3v1h-3zM6 30h1v1h-1zM9 30h5v1h-5zM16 30h4v1h-4zM21 30h1v1h-1zM24 30h2v1h-2zM28 30h1v1h-1zM31 30h2v1h-2zM0 31h1v1h-1zM6 31h1v1h-1zM8 31h1v1h-1zM11 31h1v1h-1zM14 31h1v1h-1zM17 31h4v1h-4zM24 31h4v1h-4zM32 31h1v1h-1zM0 32h7v1h-7zM9 32h1v1h-1zM11 32h1v1h-1zM15 32h2v1h-2zM18 32h3v1h-3zM24 32h1v1h-1zM26 32h1v1h-1zM28 32h1v1h-1zM30 32h1v1h-1z"/></svg>
<div class="abs" style="left:3244px;top:134.5px;width:178.5px;height:179.5px;background:#104b84;border-radius:5px;"></div><div class="abs" style="left:3252px;top:142.5px;width:162.5px;height:163.5px;background:#fff;"></div>
<svg style="left:3260px;top:151px" width="147" height="148" viewBox="0 0 29 29" shape-rendering="crispEdges"><path fill="#000" d="M0 0h7v1h-7zM11 0h1v1h-1zM13 0h1v1h-1zM15 0h6v1h-6zM22 0h7v1h-7zM0 1h1v1h-1zM6 1h1v1h-1zM8 1h1v1h-1zM10 1h1v1h-1zM13 1h2v1h-2zM20 1h1v1h-1zM22 1h1v1h-1zM28 1h1v1h-1zM0 2h1v1h-1zM2 2h3v1h-3zM6 2h1v1h-1zM9 2h1v1h-1zM12 2h3v1h-3zM17 2h1v1h-1zM19 2h2v1h-2zM22 2h1v1h-1zM24 2h3v1h-3zM28 2h1v1h-1zM0 3h1v1h-1zM2 3h3v1h-3zM6 3h1v1h-1zM8 3h1v1h-1zM10 3h5v1h-5zM17 3h4v1h-4zM22 3h1v1h-1zM24 3h3v1h-3zM28 3h1v1h-1zM0 4h1v1h-1zM2 4h3v1h-3zM6 4h1v1h-1zM10 4h2v1h-2zM15 4h1v1h-1zM20 4h1v1h-1zM22 4h1v1h-1zM24 4h3v1h-3zM28 4h1v1h-1zM0 5h1v1h-1zM6 5h1v1h-1zM9 5h3v1h-3zM20 5h1v1h-1zM22 5h1v1h-1zM28 5h1v1h-1zM0 6h7v1h-7zM8 6h1v1h-1zM10 6h1v1h-1zM12 6h1v1h-1zM14 6h1v1h-1zM16 6h1v1h-1zM18 6h1v1h-1zM20 6h1v1h-1zM22 6h7v1h-7zM9 7h5v1h-5zM16 7h2v1h-2zM19 7h1v1h-1zM1 8h2v1h-2zM4 8h3v1h-3zM11 8h1v1h-1zM15 8h3v1h-3zM22 8h1v1h-1zM24 8h1v1h-1zM27 8h1v1h-1zM0 9h1v1h-1zM3 9h1v1h-1zM5 9h1v1h-1zM7 9h1v1h-1zM9 9h2v1h-2zM12 9h1v1h-1zM14 9h1v1h-1zM16 9h4v1h-4zM21 9h1v1h-1zM26 9h1v1h-1zM28 9h1v1h-1zM2 10h1v1h-1zM6 10h5v1h-5zM12 10h3v1h-3zM16 10h1v1h-1zM18 10h5v1h-5zM25 10h3v1h-3zM0 11h1v1h-1zM2 11h1v1h-1zM4 11h1v1h-1zM8 11h1v1h-1zM10 11h3v1h-3zM14 11h1v1h-1zM16 11h1v1h-1zM18 11h2v1h-2zM22 11h1v1h-1zM25 11h2v1h-2zM28 11h1v1h-1zM1 12h1v1h-1zM6 12h1v1h-1zM9 12h3v1h-3zM13 12h3v1h-3zM19 12h2v1h-2zM24 12h1v1h-1zM28 12h1v1h-1zM0 13h1v1h-1zM3 13h2v1h-2zM9 13h5v1h-5zM16 13h3v1h-3zM20 13h2v1h-2zM27 13h1v1h-1zM3 14h2v1h-2zM6 14h6v1h-6zM16 14h2v1h-2zM19 14h1v1h-1zM23 14h4v1h-4zM28 14h1v1h-1zM4 15h2v1h-2zM8 15h3v1h-3zM13 15h1v1h-1zM15 15h1v1h-1zM19 15h1v1h-1zM23 15h1v1h-1zM26 15h1v1h-1zM28 15h1v1h-1zM0 16h1v1h-1zM6 16h2v1h-2zM12 16h1v1h-1zM15 16h1v1h-1zM17 16h3v1h-3zM21 16h1v1h-1zM23 16h1v1h-1zM1 17h1v1h-1zM3 17h1v1h-1zM8 17h1v1h-1zM10 17h2v1h-2zM15 17h1v1h-1zM18 17h2v1h-2zM23 17h1v1h-1zM3 18h1v1h-1zM6 18h1v1h-1zM10 18h1v1h-1zM12 18h2v1h-2zM17 18h3v1h-3zM21 18h2v1h-2zM24 18h2v1h-2zM1 19h1v1h-1zM5 19h1v1h-1zM7 19h1v1h-1zM9 19h1v1h-1zM11 19h1v1h-1zM13 19h4v1h-4zM18 19h1v1h-1zM20 19h1v1h-1zM22 19h1v1h-1zM25 19h1v1h-1zM0 20h1v1h-1zM6 20h1v1h-1zM9 20h2v1h-2zM18 20h1v1h-1zM20 20h5v1h-5zM26 20h3v1h-3zM8 21h6v1h-6zM18 21h3v1h-3zM24 21h1v1h-1zM26 21h1v1h-1zM28 21h1v1h-1zM0 22h7v1h-7zM9 22h2v1h-2zM13 22h1v1h-1zM19 22h2v1h-2zM22 22h1v1h-1zM24 22h1v1h-1zM28 22h1v1h-1zM0 23h1v1h-1zM6 23h1v1h-1zM11 23h3v1h-3zM15 23h6v1h-6zM24 23h1v1h-1zM26 23h2v1h-2zM0 24h1v1h-1zM2 24h3v1h-3zM6 24h1v1h-1zM8 24h1v1h-1zM11 24h1v1h-1zM18 24h1v1h-1zM20 24h5v1h-5zM0 25h1v1h-1zM2 25h3v1h-3zM6 25h1v1h-1zM11 25h2v1h-2zM16 25h2v1h-2zM20 25h2v1h-2zM24 25h1v1h-1zM0 26h1v1h-1zM2 26h3v1h-3zM6 26h1v1h-1zM8 26h1v1h-1zM10 26h1v1h-1zM12 26h1v1h-1zM14 26h5v1h-5zM21 26h1v1h-1zM23 26h2v1h-2zM26 26h3v1h-3zM0 27h1v1h-1zM6 27h1v1h-1zM8 27h2v1h-2zM11 27h1v1h-1zM13 27h1v1h-1zM15 27h2v1h-2zM18 27h4v1h-4zM23 27h1v1h-1zM25 27h1v1h-1zM27 27h2v1h-2zM0 28h7v1h-7zM8 28h5v1h-5zM15 28h1v1h-1zM18 28h2v1h-2zM21 28h1v1h-1zM25 28h3v1h-3z"/></svg>
<svg style="left:3126.5px;top:154.5px" width="56.5" height="55.5" viewBox="0 0 16 16"><path fill="#1b1f23" fill-rule="evenodd" d="M8 0C3.58 0 0 3.58 0 8c0 3.54 2.29 6.53 5.47 7.59.4.07.55-.17.55-.38 0-.19-.01-.82-.01-1.49-2.01.37-2.53-.49-2.69-.94-.09-.23-.48-.94-.82-1.13-.28-.15-.68-.52-.01-.53.63-.01 1.08.58 1.23.82.72 1.21 1.87.87 2.33.66.07-.52.28-.87.51-1.07-1.78-.2-3.64-.89-3.64-3.95 0-.87.31-1.59.82-2.15-.08-.2-.36-1.02.08-2.12 0 0 .67-.21 2.2.82.64-.18 1.32-.27 2-.27.68 0 1.36.09 2 .27 1.53-1.04 2.2-.82 2.2-.82.44 1.1.16 1.92.08 2.12.51.56.82 1.27.82 2.15 0 3.07-1.87 3.75-3.65 3.95.29.25.54.73.54 1.48 0 1.07-.01 1.93-.01 2.2 0 .21.15.46.55.38A8.013 8.013 0 0016 8c0-4.42-3.58-8-8-8z"/></svg>
<div class="t sans" style="left:3157.0px;transform:translateX(-50%);top:211.1px;font-size:33px;font-weight:bold;color:#1b1f23;transform:translateX(-50%) scaleX(0.86);">GitHub</div>
<div class="panel" style="left:35px;top:329px;width:1132px;height:888px;"></div>
<div class="panel" style="left:1179px;top:329px;width:2231px;height:888px;"></div>
<div class="panel" style="left:31.5px;top:1272px;width:3379px;height:898px;"></div>
<div class="panel" style="left:45.5px;top:2192px;width:3365px;height:73px;border-radius:10px;"></div>
<div class="tab" style="left:66px;top:292px;width:313px;height:75px;font-size:45.5px;line-height:70px;">Introduction</div>
<div class="tab" style="left:1201px;top:291.5px;width:427px;height:75.5px;font-size:45px;line-height:70px;">CLAWS (Method)</div>
<div class="tab" style="left:65.5px;top:1233px;width:510px;height:75.5px;font-size:45px;line-height:70px;">Results &amp; Analysis</div>
<div class="t sans" style="left:54.3px;top:404.0px;font-size:23.5px;color:#104b84;">•</div>
<div class="t sans just" style="left:88.3px;top:401.8px;width:1066.2px;font-size:28px;"><b class="blue">Background:</b> The most notable progress has been made in reasoning ability,</div>
<div class="t sans just" style="left:88.3px;top:443.4px;width:1066.2px;font-size:28px;">particularly in <b>mathematical problem solving</b>, and recently released frontier LLMs</div>
<div class="t sans just" style="left:88.3px;top:483.4px;width:1066.2px;font-size:28px;">appear to approach human-level intelligence in terms of accuracy on mathematical</div>
<div class="t sans" style="left:88.3px;top:523.2px;width:1066.2px;font-size:28px;">reasoning tasks<span class="blue">.</span></div>
<div class="t sans" style="left:54.3px;top:566.2px;font-size:23.5px;color:#104b84;">•</div>
<div class="t sans just" style="left:88.3px;top:564.0px;width:1066.2px;font-size:28px;"><b class="blue">Motivation:</b> Human intelligence is not defined solely by accuracy and it also</div>
<div class="t sans" style="left:88.3px;top:604.2px;width:1066.2px;font-size:28px;">encompasses diverse aspects such as <b>creativity.</b></div>
<div class="t sans" style="left:54.3px;top:646.4px;font-size:23.5px;color:#104b84;">•</div>
<div class="t sans" style="left:88.3px;top:644.2px;width:1066.2px;font-size:28px;"><b class="blue">Contribution</b></div>
<div class="t sans" style="left:88.3px;top:684.4px;width:1066.2px;font-size:28px;"><span class="serif">i)</span> A framework to classify generated solutions into <b>Hallucinated / Creative / Typical</b>.</div>
<div class="t sans just" style="left:88.3px;top:725.2px;width:1066.2px;font-size:28px;"><span class="serif">ii)</span> CLAWS: a novel white-box attention-based method for creativity and hallucination</div>
<div class="t sans" style="left:124.0px;top:765.2px;width:1066.2px;font-size:28px;">detection.</div>
<svg style="left:0;top:0;overflow:visible" width="1" height="1" font-family="Liberation Serif, serif">
<defs>
<marker id="ah" viewBox="0 0 10 10" refX="9" refY="5" markerWidth="12" markerHeight="12" markerUnits="userSpaceOnUse" orient="auto-start-reverse"><path d="M0 0.8 L10 5 L0 9.2 L2.6 5 z" fill="#000"/></marker>
<linearGradient id="gem" x1="0" y1="1" x2="1" y2="0"><stop offset="0" stop-color="#1c9fe6"/><stop offset="0.55" stop-color="#3f93e3"/><stop offset="1" stop-color="#a86fd0"/></linearGradient>
</defs>
<rect x="125.0" y="829.0" width="241.3" height="310.2" rx="5" fill="#f5f5f5" stroke="#000" stroke-width="1.9"/>
<rect x="401.0" y="825.0" width="362.3" height="129.5" rx="5" fill="#f5f5f5" stroke="#000" stroke-width="1.9"/>
<rect x="401.0" y="985.6" width="362.3" height="155.1" rx="5" fill="#f5f5f5" stroke="#000" stroke-width="1.9"/>
<rect x="797.4" y="829.0" width="310.8" height="223.4" rx="5" fill="#f5f5f5" stroke="#000" stroke-width="1.9"/>
<rect x="153" y="812" width="186" height="33" fill="#fff"/>
<rect x="457.6" y="808" width="249.0" height="33" fill="#fff"/>
<rect x="496" y="968.6" width="172" height="33" fill="#fff"/>
<rect x="857" y="812" width="188" height="33" fill="#fff"/>
<text x="245.0" y="836.5" font-size="22.4" text-anchor="middle"><tspan font-weight="bold">Step 1.</tspan> Generation</text>
<text x="581.5" y="841.5" font-size="22.4" text-anchor="middle"><tspan font-weight="bold">Step 2.</tspan> Feature Extraction</text>
<text x="581.0" y="993.5" font-size="22.4" text-anchor="middle"><tspan font-weight="bold">Step 3.</tspan> Labeling</text>
<text x="950.0" y="836.5" font-size="22.4" text-anchor="middle"><tspan font-weight="bold">Step 4.</tspan> Evaluation</text>
<rect x="141.8" y="863.2" width="207.7" height="103.0" rx="10" fill="#fad7ac" stroke="#000" stroke-width="1.9"/>
<text font-size="17.35" x="148.5" y="889.9"><tspan font-weight="bold">Prompt</tspan>: Given the</text>
<text x="148.5" y="910.8" font-size="17.35">following mathematical</text>
<text x="148.5" y="931.7" font-size="17.35">problem: ···. Please output</text>
<text x="148.5" y="952.3" font-size="17.35">a novel solution ···</text>
<polyline points="245.0,966.2 245.0,988.0" fill="none" stroke="#000" stroke-width="1.9" marker-end="url(#ah)"/>
<g stroke="#000" stroke-width="1.4" fill="#d9d9d9" stroke-linejoin="round">
<path d="M221 1003 L250 989.5 L279 1003 L279 1031 L250 1045 L221 1031 Z"/>
<path d="M216.5 1007.5 L245.5 994 L274.5 1007.5 L274.5 1035.5 L245.5 1049.5 L216.5 1035.5 Z"/>
<path d="M212 1012 L241 998.5 L270 1012 L270 1040 L241 1054 L212 1040 Z"/>
<path d="M212 1012 L241 1025 L270 1012 M241 1025 L241 1054" fill="none"/>
</g>
<rect x="219" y="1015" width="44" height="20" fill="#d9d9d9"/>
<text x="242.0" y="1031.5" font-size="17.35" text-anchor="middle">LLMs</text>
<polyline points="245.0,1053.0 245.0,1077.5" fill="none" stroke="#000" stroke-width="1.9" marker-end="url(#ah)"/>
<rect x="141.8" y="1079.0" width="207.7" height="34.7" rx="0" fill="#f8cecc" stroke="#000" stroke-width="1.9"/>
<text x="245.0" y="1102.3" font-size="17.35" text-anchor="middle">New Solution</text>
<polyline points="349.5,902.4 376.5,902.4 376.5,1096.3 349.5,1096.3" fill="none" stroke="#000" stroke-width="1.9"/>
<polyline points="376.5,940.0 376.5,972.0" fill="none" stroke="#000" stroke-width="1.9" marker-end="url(#ah)"/>
<polyline points="376.5,1068.3 422.0,1068.3" fill="none" stroke="#000" stroke-width="1.9" marker-end="url(#ah)"/>
<polyline points="274.0,1028.0 386.7,1027.5 386.7,902.4 450.5,902.4" fill="none" stroke="#000" stroke-width="1.9" marker-end="url(#ah)"/>
<rect x="452.5" y="877" width="52.1" height="52" fill="#fff2cc"/>
<rect x="504.3" y="877" width="52.1" height="52" fill="#d5e8d4"/>
<rect x="556.2" y="877" width="52.1" height="52" fill="#dae8fc"/>
<rect x="608.0" y="877" width="52.1" height="52" fill="#e1d5e7"/>
<rect x="659.9" y="877" width="52.1" height="52" fill="#f8cecc"/>
<rect x="452.5" y="877.0" width="259.2" height="52.0" rx="0" fill="none" stroke="#000" stroke-width="1.8"/>
<text x="581.0" y="908.8" font-size="17.35" text-anchor="middle">Features</text>
<rect x="422.4" y="1026.0" width="156.6" height="85.6" rx="10" fill="#fff" stroke="#888" stroke-width="1.6" stroke-dasharray="5 4"/>
<rect x="607.0" y="1026.0" width="139.0" height="85.6" rx="10" fill="#fff" stroke="#888" stroke-width="1.6" stroke-dasharray="5 4"/>
<path d="M443 1034.5 C444 1042 446.5 1045 454 1046.5 C446.5 1048 444 1051 443 1058.5 C442 1051 439.5 1048 432 1046.5 C439.5 1045 442 1042 443 1034.5 Z" fill="url(#gem)"/>
<text x="460.2" y="1051.6" font-size="17.35">Gemini 1.5 Pro</text>
<g transform="translate(442.7,1084.3)" fill="none" stroke="#000" stroke-width="1.5"><rect transform="rotate(0) translate(2.6,-6.3)" x="-4.1" y="-5.6" width="8.2" height="11.8" rx="4.1"/><rect transform="rotate(60) translate(2.6,-6.3)" x="-4.1" y="-5.6" width="8.2" height="11.8" rx="4.1"/><rect transform="rotate(120) translate(2.6,-6.3)" x="-4.1" y="-5.6" width="8.2" height="11.8" rx="4.1"/><rect transform="rotate(180) translate(2.6,-6.3)" x="-4.1" y="-5.6" width="8.2" height="11.8" rx="4.1"/><rect transform="rotate(240) translate(2.6,-6.3)" x="-4.1" y="-5.6" width="8.2" height="11.8" rx="4.1"/><rect transform="rotate(300) translate(2.6,-6.3)" x="-4.1" y="-5.6" width="8.2" height="11.8" rx="4.1"/></g>
<text x="460.2" y="1089.9" font-size="17.35">GPT o4-mini</text>
<polyline points="579.0,1067.2 606.5,1067.2" fill="none" stroke="#000" stroke-width="1.9" marker-end="url(#ah)"/>
<text x="617.9" y="1049.6" font-size="17.35">Hallucinated</text>
<rect x="617" y="1059.3" width="59.5" height="19" fill="#f08a8a"/>
<text x="617.9" y="1074.6" font-size="17.35">Creative</text>
<text x="617.9" y="1100.1" font-size="17.35">Typical</text>
<rect x="721.4" y="1036.6" width="14.3" height="14.4" rx="0" fill="#fff" stroke="#000" stroke-width="1.3"/>
<rect x="721.4" y="1062.0" width="14.3" height="14.4" rx="0" fill="#fff" stroke="#000" stroke-width="1.3"/>
<rect x="721.4" y="1088.7" width="14.3" height="14.4" rx="0" fill="#fff" stroke="#000" stroke-width="1.3"/>
<path d="M719.5 1065.5 L726.5 1072.5 L740.5 1054.5" fill="none" stroke="#16b054" stroke-width="3.2"/>
<text x="952.0" y="868.8" font-size="17.35" text-anchor="middle" font-weight="bold" text-decoration="underline">Detection Performance</text>
<polyline points="952.0,915.5 952.0,882.0" fill="none" stroke="#000" stroke-width="1.9" marker-end="url(#ah)"/>
<g transform="translate(977,897) rotate(-38)"><rect x="0" y="-3.2" width="15" height="6.4" fill="#e8513f" stroke="#8a2a1f" stroke-width="0.8"/><path d="M0 -3.2 L-5 0 L0 3.2 Z" fill="#f4a58a" stroke="#8a2a1f" stroke-width="0.6"/></g>
<text x="993.9" y="900.6" font-size="17.35">True <tspan fill="#999">| False</tspan></text>
<rect x="816.3" y="916.2" width="273.5" height="41.4" rx="9" fill="#fff" stroke="#888" stroke-width="1.6" stroke-dasharray="5 4"/>
<rect x="939.3" y="926.3" width="58" height="18.5" fill="#f08a8a"/>
<text x="949.5" y="941.4" font-size="17.35" text-anchor="middle">Hallucinated | Creative | Typical</text>
<polyline points="952.0,984.0 952.0,959.0" fill="none" stroke="#000" stroke-width="1.9" marker-end="url(#ah)"/>
<rect x="814.8" y="984.0" width="276.5" height="51.0" rx="0" fill="#b0e3e6" stroke="#000" stroke-width="2"/>
<text x="951.5" y="1015.9" font-size="17.35" text-anchor="middle">Detection Method</text>
<polyline points="875.0,1069.8 875.0,1036.5" fill="none" stroke="#000" stroke-width="1.9" marker-end="url(#ah)"/>
<polyline points="1030.0,1069.8 1030.0,1036.5" fill="none" stroke="#000" stroke-width="1.9" marker-end="url(#ah)"/>
<rect x="806.0" y="1069.8" width="138.4" height="34.7" rx="0" fill="#f9f7ed" stroke="#000" stroke-width="1.6"/>
<line x1="875.6" y1="1071" x2="875.6" y2="1103.5" stroke="#666" stroke-width="1.2" stroke-dasharray="4 3"/>
<text x="814.8" y="1093.5" font-size="17.35">Feature</text>
<text x="889.8" y="1093.5" font-size="17.35">Label</text>
<rect x="961.2" y="1069.8" width="138.3" height="34.7" rx="0" fill="#f9f7ed" stroke="#000" stroke-width="1.6"/>
<line x1="1030.8" y1="1071" x2="1030.8" y2="1103.5" stroke="#666" stroke-width="1.2" stroke-dasharray="4 3"/>
<text x="970.0" y="1093.5" font-size="17.35">Feature</text>
<text x="1045.0" y="1093.5" font-size="17.35">Label</text>
<text x="874.5" y="1127.6" font-size="17.2" text-anchor="middle">Reference set</text>
<text x="1029.6" y="1122.5" font-size="17.2" text-anchor="middle">Test set</text>
<text x="1030.0" y="1142.2" font-size="17.2" text-anchor="middle">Extended Test Set</text>
</svg>
<div class="t sans" style="left:595.4px;transform:translateX(-50%);top:1171.7px;font-size:21.0px;letter-spacing:0.15px;"><b>Figure 1.</b> Overview of the experimental framework.</div>
<div class="abs" style="left:1208.8px;top:379.8px;width:666.9000000000001px;height:448.29999999999995px;background:#fff2cc;"></div>
<div class="abs" style="left:1208.8px;top:827.8px;width:666.9000000000001px;height:70.50000000000004px;background:#d5e8d4;"></div>
<div class="abs" style="left:1208.8px;top:898px;width:666.9000000000001px;height:172.89999999999992px;background:#dae8fc;"></div>
<div class="abs" style="left:1208.8px;top:1070.6px;width:666.9000000000001px;height:68.70000000000009px;background:#e1d5e7;"></div>
<div class="t serif" style="left:1217.3px;top:396.1px;width:660.0px;font-size:22.15px;"><b>Criteria for evaluating the difference between two mathematical</b></div>
<div class="t serif" style="left:1217.3px;top:423.3px;width:660.0px;font-size:22.15px;"><b>solutions include:</b></div>
<div class="t serif" style="left:1217.3px;top:449.7px;width:660.0px;font-size:22.15px;">i). If the methods used to arrive at the solutions are fundamentally</div>
<div class="t serif" style="left:1217.3px;top:476.0px;width:660.0px;font-size:22.15px;">different, such as algebraic manipulation versus geometric reasoning, they</div>
<div class="t serif" style="left:1217.3px;top:502.6px;width:660.0px;font-size:22.15px;">can be considered distinct;</div>
<div class="t serif" style="left:1217.3px;top:528.9px;width:660.0px;font-size:22.15px;">ii). Even if the final results are the same, if the intermediate steps or</div>
<div class="t serif" style="left:1217.3px;top:555.7px;width:660.0px;font-size:22.15px;">processes involved in reaching those solutions vary significantly, the</div>
<div class="t serif" style="left:1217.3px;top:581.7px;width:660.0px;font-size:22.15px;">solutions can be considered different;</div>
<div class="t serif" style="left:1217.3px;top:608.0px;width:660.0px;font-size:22.15px;">iii). If two solutions rely on different assumptions or conditions, they are</div>
<div class="t serif" style="left:1217.3px;top:634.6px;width:660.0px;font-size:22.15px;">likely to be distinct;</div>
<div class="t serif" style="left:1217.3px;top:660.9px;width:660.0px;font-size:22.15px;">iv). A solution might generalize to a broader class of problems, while</div>
<div class="t serif" style="left:1217.3px;top:687.5px;width:660.0px;font-size:22.15px;">another solution might be specific to certain conditions. In such cases,</div>
<div class="t serif" style="left:1217.3px;top:713.7px;width:660.0px;font-size:22.15px;">they are considered distinct;</div>
<div class="t serif" style="left:1217.3px;top:740.0px;width:660.0px;font-size:22.15px;">v). If one solution is significantly simpler or more complex than the other,</div>
<div class="t serif" style="left:1217.3px;top:766.7px;width:660.0px;font-size:22.15px;">they can be regarded as essentially different, even if they lead to the same</div>
<div class="t serif" style="left:1217.3px;top:792.9px;width:660.0px;font-size:22.15px;">result.</div>
<div class="t serif" style="left:1217.3px;top:839.6px;width:660.0px;font-size:22.15px;"><b>Given the following mathematical problem:</b></div>
<div class="t serif" style="left:1217.3px;top:866.6px;width:660.0px;font-size:22.15px;">What is the largest power of 2 that is a divisor of <span style="letter-spacing:1.25px;word-spacing:2.5px">13<sup style="font-size:0.62em;line-height:0;vertical-align:0.55em">4</sup> − 11<sup style="font-size:0.62em;line-height:0;vertical-align:0.55em">4</sup></span>?</div>
<div class="t serif" style="left:1217.3px;top:907.9px;width:660.0px;font-size:22.15px;"><b>And some typical solutions:</b></div>
<div class="t serif" style="left:1217.3px;top:934.9px;width:660.0px;font-size:22.15px;">1. First, we use the difference of squares on <span style="letter-spacing:1.25px;word-spacing:2.5px">13<sup style="font-size:0.62em;line-height:0;vertical-align:0.55em">4</sup> − 11<sup style="font-size:0.62em;line-height:0;vertical-align:0.55em">4</sup> = (12<sup style="font-size:0.62em;line-height:0;vertical-align:0.55em">2</sup>)<sup style="font-size:0.62em;line-height:0;vertical-align:0.55em">2</sup> −</span></div>
<div class="t serif" style="left:1217.3px;top:961.6px;width:660.0px;font-size:22.15px;"><span style="letter-spacing:1.25px;word-spacing:2.5px">(11<sup style="font-size:0.62em;line-height:0;vertical-align:0.55em">2</sup>)<sup style="font-size:0.62em;line-height:0;vertical-align:0.55em">2</sup></span>. ···</div>
<div class="t serif" style="left:1217.3px;top:987.0px;width:660.0px;font-size:22.15px;">2. Just like in the above solution, we use the difference-of-squares</div>
<div class="t serif" style="left:1217.3px;top:1013.7px;width:660.0px;font-size:22.15px;">factorization, but only once to get <span style="letter-spacing:1.25px;word-spacing:2.5px">13<sup style="font-size:0.62em;line-height:0;vertical-align:0.55em">4</sup> − 11<sup style="font-size:0.62em;line-height:0;vertical-align:0.55em">4</sup> = (13<sup style="font-size:0.62em;line-height:0;vertical-align:0.55em">2</sup> − 11<sup style="font-size:0.62em;line-height:0;vertical-align:0.55em">2</sup>)(13<sup style="font-size:0.62em;line-height:0;vertical-align:0.55em">2</sup> +</span></div>
<div class="t serif" style="left:1217.3px;top:1039.8px;width:660.0px;font-size:22.15px;"><span style="letter-spacing:1.25px;word-spacing:2.5px">11<sup style="font-size:0.62em;line-height:0;vertical-align:0.55em">2</sup>)</span>. ···</div>
<div class="t serif" style="left:1217.3px;top:1080.8px;width:660.0px;font-size:22.15px;"><b>Please output a novel solution distinct from the given ones for this</b></div>
<div class="t serif" style="left:1217.3px;top:1107.5px;width:660.0px;font-size:22.15px;"><b>math problem.</b></div>
<div class="t sans" style="left:1544.5px;transform:translateX(-50%);top:1157.5px;font-size:18.7px;"><b>Figure 2.</b> Input prompt consists of four sections: Guideline (G, yellow),</div>
<div class="t sans" style="left:1544.5px;transform:translateX(-50%);top:1180.5px;font-size:18.7px;">Problem (P, green), Reference Solutions (S, blue), and Instruction (I, purple).</div>
<div class="t sans" style="left:1900.0px;top:346.9px;font-size:27px;font-weight:bold;color:#104b84;">Step 1</div>
<div class="abs" style="left:2008.5px;top:356.7px;width:1379px;height:3px;background:#104b84;border-radius:2px;"></div>
<div class="t sans just" style="left:1900.0px;top:386.8px;width:1481.0px;font-size:28px;">The input prompt and<span style="display:inline-block;width:5px"></span> output is divided into predefined sections—<i>Guideline, Problem, Solution, Instruction</i> and</div>
<div class="t sans" style="left:1900.0px;top:427.0px;width:1481.0px;font-size:28px;"><i>Response</i>—enabling section-wise attention analysis.</div>
<div class="t sans" style="left:1900.0px;top:466.9px;font-size:27px;font-weight:bold;color:#104b84;">Step 2</div>
<div class="abs" style="left:2008.5px;top:480px;width:1379px;height:3px;background:#104b84;border-radius:2px;"></div>
<div class="t sans" style="left:1902.2px;top:509.6px;font-size:23.5px;">•</div>
<div class="t sans just" style="left:1935.6px;top:507.4px;width:1445.4px;font-size:28px;">CLAWS computes <b>attention weights</b> for each prompt section during generation and quantifies the degree of</div>
<div class="t sans" style="left:1935.6px;top:547.0px;width:1445.0px;font-size:28px;">influence that each section exerts on the model’s output.</div>
<div class="t sans" style="left:1902.2px;top:589.4px;font-size:23.5px;">•</div>
<div class="t sans" style="left:1935.6px;top:587.2px;width:1445.0px;font-size:28px;">Attention distributions are aggregated into <b>section-level features</b> representing reasoning patterns.</div>
<svg style="left:0;top:0;overflow:visible" width="1" height="1" font-family="Liberation Serif, serif" font-size="25">
<text x="1980.4" y="671.9" font-size="25.5">AVGA</text>
<text x="2052.0" y="677.0" font-size="19" font-family="DejaVu Math TeX Gyre, DejaVu Serif, serif">𝒰</text>
<text x="2085.0" y="671.9" font-size="30">=</text>
<text x="2192.3" y="650.3" font-size="26" text-anchor="middle">1</text>
<line x1="2126" y1="663.4" x2="2257" y2="663.4" stroke="#000" stroke-width="1.6"/>
<text x="2126.0" y="691.8" font-size="25" font-style="italic">H</text>
<text x="2155.0" y="691.8" font-size="25">·</text>
<text x="2170.0" y="691.8" font-size="25" font-style="italic">T</text>
<text x="2197.0" y="691.8" font-size="25">·</text>
<text x="2211.0" y="691.8" font-size="25">|</text>
<text x="2217.5" y="691.8" font-size="22" font-family="DejaVu Math TeX Gyre, DejaVu Serif, serif">𝒥</text>
<text x="2231.0" y="697.5" font-size="18.5" font-family="DejaVu Math TeX Gyre, DejaVu Serif, serif">𝒰</text>
<text x="2250.0" y="691.8" font-size="25">|</text>
<text transform="translate(2268.0,678.9) scale(0.88,1)" font-size="65.4">∑</text>
<text x="2308.6" y="641.8" font-size="18.5" font-style="italic">H</text>
<text x="2308.6" y="694.8" font-size="20.5" font-style="italic" letter-spacing="0.6">h<tspan font-style="normal">=1</tspan></text>
<text transform="translate(2353.7,678.9) scale(0.88,1)" font-size="65.4">∑</text>
<text x="2393.7" y="641.8" font-size="18.5" font-style="italic">T</text>
<text x="2393.7" y="694.8" font-size="20.5" font-style="italic" letter-spacing="0.6">t<tspan font-style="normal">=1</tspan></text>
<text transform="translate(2434.7,678.9) scale(0.88,1)" font-size="65.4">∑</text>
<text x="2476.3" y="695.0" font-size="18.5" font-style="italic">i</text>
<text x="2487.0" y="695.0" font-size="17" font-family="DejaVu Math TeX Gyre, DejaVu Serif, serif">∈</text>
<text x="2506.0" y="695.0" font-size="17" font-family="DejaVu Math TeX Gyre, DejaVu Serif, serif">𝒥</text>
<text x="2517.0" y="699.5" font-size="15" font-family="DejaVu Math TeX Gyre, DejaVu Serif, serif">𝒰</text>
<text x="2535.5" y="671.9" font-size="25.5" font-style="italic">A</text>
<text x="2555.0" y="680.0" font-size="18.5" font-style="italic">h</text>
<text x="2554.6" y="656.3" font-size="18.5" font-style="italic">(L)</text>
<text x="2587.0" y="671.9" font-size="26">[</text>
<text x="2595.5" y="671.9" font-size="25.5" font-style="italic">t</text>
<text x="2604.0" y="671.9" font-size="25.5">,</text>
<text x="2614.5" y="671.9" font-size="25.5" font-style="italic">i</text>
<text x="2624.0" y="671.9" font-size="26">]</text>
<text x="2643.0" y="671.9" font-size="25.5">,</text>
<text x="2656.6" y="671.9" font-size="25.5">for</text>
<text x="2696.0" y="671.9" font-size="25.5" font-family="DejaVu Math TeX Gyre, DejaVu Serif, serif">𝒰</text>
<text x="2729.5" y="671.9" font-size="30">=</text>
<text x="2759.0" y="671.9" font-size="26">{</text>
<text x="2771.0" y="671.9" font-size="25.5" font-style="italic">G</text>
<text x="2791.0" y="671.9" font-size="25.5">,</text>
<text x="2801.5" y="671.9" font-size="25.5" font-style="italic">P</text>
<text x="2819.0" y="671.9" font-size="25.5">,</text>
<text x="2830.5" y="671.9" font-size="25.5" font-style="italic">S</text>
<text x="2846.0" y="671.9" font-size="25.5">,</text>
<text x="2858.5" y="671.9" font-size="25.5" font-style="italic">I</text>
<text x="2870.0" y="671.9" font-size="25.5">,</text>
<text x="2881.0" y="671.9" font-size="25.5" font-style="italic">R</text>
<text x="2900.0" y="671.9" font-size="26">}</text>
<text x="2924.5" y="671.9" font-size="25.5">,</text>
<text x="2938.6" y="671.9" font-size="25.5">CLAWS</text>
<text x="3029.5" y="677.0" font-size="19" font-family="DejaVu Math TeX Gyre, DejaVu Serif, serif">𝒰</text>
<text x="3058.0" y="671.9" font-size="30">=</text>
<line x1="3092.6" y1="663" x2="3363.2" y2="663" stroke="#000" stroke-width="1.6"/>
<text x="3183.5" y="647.8" font-size="25.5">AVGA</text>
<text x="3255.0" y="653.0" font-size="19" font-family="DejaVu Math TeX Gyre, DejaVu Serif, serif">𝒰</text>
<text transform="translate(3092,688.4) scale(1.13,1)" font-size="30.7">∑</text>
<text x="3114.5" y="697.4" font-size="17" font-family="DejaVu Math TeX Gyre, DejaVu Serif, serif">𝒰′</text>
<text x="3141.0" y="697.4" font-size="16.5" font-family="DejaVu Math TeX Gyre, DejaVu Serif, serif">∈</text>
<text x="3161.0" y="697.4" font-size="18" font-style="italic" letter-spacing="0.6">{G,P,S,I,R}</text>
<text x="3265.2" y="689.8" font-size="25.5">AVGA</text>
<text x="3336.5" y="695.0" font-size="19" font-family="DejaVu Math TeX Gyre, DejaVu Serif, serif">𝒰′</text>
</svg>
<svg style="left:0;top:0;overflow:visible" width="1" height="1" font-family="Liberation Serif, serif" font-size="21">
<rect x="1948.6" y="793.1" width="362.3" height="336.1" rx="36" fill="none" stroke="#000" stroke-width="1.5" stroke-dasharray="6 5"/>
<polyline points="1983.3,793.0 1983.3,756.0" fill="none" stroke="#000" stroke-width="1.5" marker-end="url(#a3_000)"/>
<text x="1983.3" y="744.0" font-size="22" font-style="italic" text-anchor="middle">r<tspan font-size="15.0" dy="5" font-style="normal">1</tspan></text>
<polyline points="2032.7,793.0 2032.7,756.0" fill="none" stroke="#000" stroke-width="1.5" marker-end="url(#a3_000)"/>
<text x="2032.7" y="744.0" font-size="22" font-style="italic" text-anchor="middle">r<tspan font-size="15.0" dy="5" font-style="normal">2</tspan></text>
<polyline points="2086.0,793.0 2086.0,756.0" fill="none" stroke="#000" stroke-width="1.5" marker-end="url(#a3_000)"/>
<text x="2086.0" y="744.0" font-size="22" font-style="italic" text-anchor="middle">r<tspan font-size="15.0" dy="5" font-style="normal">3</tspan></text>
<polyline points="2268.4,793.0 2268.4,756.0" fill="none" stroke="#000" stroke-width="1.5" marker-end="url(#a3_000)"/>
<text x="2268.4" y="744.0" font-size="22" font-style="italic" text-anchor="middle">r<tspan font-size="15.0" dy="5">T</tspan></text>
<rect x="2145.0" y="766.5" width="5.2" height="5.2" fill="#000"/>
<rect x="2158.6" y="766.5" width="5.2" height="5.2" fill="#000"/>
<rect x="2172.2" y="766.5" width="5.2" height="5.2" fill="#000"/>
<text x="1973" y="829.5" font-size="21.5">N<tspan font-size="15" dy="-8">th</tspan></text>
<rect x="2011.6" y="807.8" width="256.4" height="247.2" rx="0" fill="#f5f5f5" stroke="#666" stroke-width="1.6"/>
<rect x="2037.8" y="821.4" width="212.5" height="36.0" rx="6" fill="#fff" stroke="#000" stroke-width="1.8"/>
<rect x="2037.8" y="878.2" width="212.5" height="35.7" rx="6" fill="#fff" stroke="#000" stroke-width="1.8"/>
<rect x="2037.8" y="936.7" width="212.5" height="35.7" rx="6" fill="#fff" stroke="#000" stroke-width="1.8"/>
<rect x="2037.8" y="993.1" width="212.5" height="44.9" rx="8" fill="#ffdce5" stroke="#333" stroke-width="1.6"/>
<text x="2144.2" y="845.4" font-size="21" text-anchor="middle">Add &amp; Norm.</text>
<text x="2144.2" y="902.2" font-size="21" text-anchor="middle">Feed Forward</text>
<text x="2144.2" y="960.3" font-size="21" text-anchor="middle">Add &amp; Norm.</text>
<text x="2144.2" y="1021.6" font-size="21.3" text-anchor="middle" font-weight="bold">Multi-Head Attention</text>
<polyline points="2144.2,993.0 2144.2,973.6" fill="none" stroke="#000" stroke-width="1.5" marker-end="url(#a3_000)"/>
<polyline points="2144.2,936.6 2144.2,915.0" fill="none" stroke="#000" stroke-width="1.5" marker-end="url(#a3_000)"/>
<polyline points="2144.2,878.0 2144.2,858.6" fill="none" stroke="#000" stroke-width="1.5" marker-end="url(#a3_000)"/>
<polyline points="2144.2,1072.7 2144.2,1039.0" fill="none" stroke="#000" stroke-width="1.5" marker-end="url(#a3_000)"/>
<rect x="2013.3" y="1072.7" width="256.7" height="35.4" rx="0" fill="#f5f5f5" stroke="#666" stroke-width="1.6"/>
<text x="2142.2" y="1096.4" font-size="21" text-anchor="middle" fill="#333">Transformer Decoder</text>
<text x="1958.5" y="1096.4" font-size="21">N-1 <tspan font-family="Liberation Sans, sans-serif" font-size="20">x</tspan></text>
<polyline points="1984.0,1129.5 1984.0,1152.0" fill="none" stroke="#000" stroke-width="1.5"/>
<polyline points="2034.4,1129.5 2034.4,1152.0" fill="none" stroke="#000" stroke-width="1.5"/>
<polyline points="2087.8,1129.5 2087.8,1152.0" fill="none" stroke="#000" stroke-width="1.5"/>
<polyline points="2269.7,1129.5 2269.7,1152.0" fill="none" stroke="#000" stroke-width="1.5"/>
<text x="1982.3" y="1177.5" font-size="22" text-anchor="middle" font-style="italic">X</text>
<text x="2032.7" y="1175.0" font-size="22" font-style="italic" text-anchor="middle">r<tspan font-size="15.0" dy="5" font-style="normal">1</tspan></text>
<text x="2086.4" y="1175.0" font-size="22" font-style="italic" text-anchor="middle">r<tspan font-size="15.0" dy="5" font-style="normal">2</tspan></text>
<text x="2160.2" y="1177.5" font-size="20" text-anchor="middle">...</text>
<text x="2267.3" y="1175.0" font-size="22" font-style="italic" text-anchor="middle">r<tspan font-size="15.0" dy="5">T−1</tspan></text>
<polyline points="2250.3,1015.2 2338.8,1015.2 2338.8,838.0" fill="none" stroke="#666" stroke-width="1.5"/>
<polyline points="2338.8,838.0 2407.0,838.0" fill="none" stroke="#666" stroke-width="1.5" marker-end="url(#a3s_666)"/>
<polyline points="2338.8,855.7 2407.0,855.7" fill="none" stroke="#666" stroke-width="1.5" marker-end="url(#a3s_666)"/>
<polyline points="2338.8,873.0 2407.0,873.0" fill="none" stroke="#666" stroke-width="1.5" marker-end="url(#a3s_666)"/>
<polyline points="2338.8,944.5 2407.0,944.5" fill="none" stroke="#666" stroke-width="1.5" marker-end="url(#a3s_666)"/>
<text x="2342.2" y="802.7" font-size="21">Head <tspan font-style="italic">H</tspan></text>
<text x="2402" y="832.2" font-size="18.3" font-style="italic" text-anchor="end">t = <tspan font-style="normal">1</tspan></text>
<text x="2402" y="850" font-size="18.3" font-style="italic" text-anchor="end">t = <tspan font-style="normal">2</tspan></text>
<text x="2402" y="867.6" font-size="18.3" font-style="italic" text-anchor="end">t = <tspan font-style="normal">3</tspan></text>
<text x="2402" y="939.4" font-size="18.3" font-style="italic" text-anchor="end">t = T</text>
<rect x="2380" y="888.0" width="4.6" height="4.6" fill="#000"/>
<rect x="2380" y="898.5" width="4.6" height="4.6" fill="#000"/>
<rect x="2380" y="909.0" width="4.6" height="4.6" fill="#000"/>
<polygon points="2451.0,825.4 2451.0,789.7 2554.7,789.7 2512.2,825.4" fill="#fff2cc" fill-opacity="0.4"/>
<polygon points="2512.2,825.4 2554.7,789.7 2660.9,789.7 2618.4,825.4" fill="#d5e8d4" fill-opacity="0.4"/>
<polygon points="2618.4,825.4 2660.9,789.7 2763.5,789.7 2721.0,825.4" fill="#dae8fc" fill-opacity="0.4"/>
<polygon points="2721.0,825.4 2763.5,789.7 2866.2,789.7 2823.7,825.4" fill="#e1d5e7" fill-opacity="0.4"/>
<polygon points="2823.7,825.4 2866.2,789.7 2887.1,789.7 2844.6,825.4" fill="#f8cecc" fill-opacity="0.4"/>
<path d="M2451.0 789.7V825.4M2471.7 789.7V825.4M2492.5 789.7V825.4M2513.2 789.7V825.4M2534.0 789.7V825.4M2554.7 789.7V825.4M2554.7 789.7V825.4M2575.9 789.7V825.4M2597.2 789.7V825.4M2618.4 789.7V825.4M2639.7 789.7V825.4M2660.9 789.7V825.4M2660.9 789.7V825.4M2681.4 789.7V825.4M2701.9 789.7V825.4M2722.5 789.7V825.4M2743.0 789.7V825.4M2763.5 789.7V825.4M2763.5 789.7V825.4M2784.0 789.7V825.4M2804.6 789.7V825.4M2825.1 789.7V825.4M2845.7 789.7V825.4M2866.2 789.7V825.4M2866.2 789.7V825.4M2887.1 789.7V825.4M2908.0 789.7V825.4M2928.9 789.7V825.4M2949.8 789.7V825.4M2970.7 789.7V825.4M2991.6 789.7V825.4M3012.5 789.7V825.4M2451.0 807.5H3012.5" stroke="#555" stroke-width="0.9" fill="none" opacity="0.75"/>
<polygon points="2407.5,788.7 2451.0,788.7 2407.5,826.4" fill="#fff"/>
<clipPath id="rfc"><polygon points="2970,825.4 3012.5,789.6999999999999 3012.5,912.9 2970,948.6"/></clipPath>
<g clip-path="url(#rfc)"><rect x="2970" y="789.6999999999999" width="42.5" height="123.20000000000005" fill="#fff"/><rect x="2970" y="895.1999999999999" width="42.5" height="17.700000000000045" fill="#f8cecc" fill-opacity="0.4"/><path d="M2970.0 789.7H3012.5M2970.0 807.4H3012.5M2970.0 825.0H3012.5M2970.0 842.6H3012.5M2970.0 859.9H3012.5M2970.0 876.5H3012.5M2970.0 895.2H3012.5M2970.0 912.9H3012.5M2991.6 789.7V912.9M2970.7 789.7V912.9" stroke="#555" stroke-width="0.9" fill="none" opacity="0.75"/></g>
<rect x="2408.5" y="825.4" width="103.7" height="86.8" fill="#fff2cc"/>
<rect x="2408.5" y="930.9" width="103.7" height="17.7" fill="#fff2cc"/>
<rect x="2512.2" y="825.4" width="106.2" height="86.8" fill="#d5e8d4"/>
<rect x="2512.2" y="930.9" width="106.2" height="17.7" fill="#d5e8d4"/>
<rect x="2618.4" y="825.4" width="102.6" height="86.8" fill="#dae8fc"/>
<rect x="2618.4" y="930.9" width="102.6" height="17.7" fill="#dae8fc"/>
<rect x="2721.0" y="825.4" width="102.7" height="86.8" fill="#e1d5e7"/>
<rect x="2721.0" y="930.9" width="102.7" height="17.7" fill="#e1d5e7"/>
<rect x="2823.7" y="825.4" width="20.9" height="17.9" fill="#f8cecc"/>
<rect x="2823.7" y="843.1" width="41.8" height="17.8" fill="#f8cecc"/>
<rect x="2823.7" y="860.7" width="62.7" height="17.8" fill="#f8cecc"/>
<rect x="2823.7" y="878.3" width="83.6" height="17.5" fill="#f8cecc"/>
<rect x="2823.7" y="895.6" width="104.5" height="16.8" fill="#f8cecc"/>
<rect x="2823.7" y="930.9" width="146.3" height="17.7" fill="#f8cecc"/>
<path d="M2429.2 825.4V912.2M2429.2 930.9V948.6M2450.0 825.4V912.2M2450.0 930.9V948.6M2470.7 825.4V912.2M2470.7 930.9V948.6M2491.5 825.4V912.2M2491.5 930.9V948.6M2533.4 825.4V912.2M2533.4 930.9V948.6M2554.7 825.4V912.2M2554.7 930.9V948.6M2575.9 825.4V912.2M2575.9 930.9V948.6M2597.2 825.4V912.2M2597.2 930.9V948.6M2638.9 825.4V912.2M2638.9 930.9V948.6M2659.4 825.4V912.2M2659.4 930.9V948.6M2680.0 825.4V912.2M2680.0 930.9V948.6M2700.5 825.4V912.2M2700.5 930.9V948.6M2741.5 825.4V912.2M2741.5 930.9V948.6M2762.1 825.4V912.2M2762.1 930.9V948.6M2782.6 825.4V912.2M2782.6 930.9V948.6M2803.2 825.4V912.2M2803.2 930.9V948.6M2844.6 825.4V912.2M2844.6 930.9V948.6M2865.5 825.4V912.2M2865.5 930.9V948.6M2886.4 825.4V912.2M2886.4 930.9V948.6M2907.3 825.4V912.2M2907.3 930.9V948.6M2928.2 825.4V912.2M2928.2 930.9V948.6M2949.1 825.4V912.2M2949.1 930.9V948.6M2408.5 843.1H2970M2408.5 860.7H2970M2408.5 878.3H2970M2408.5 895.6H2970M2408.5 912.2H2970M2408.5 930.9H2970" stroke="#222" stroke-width="1.1" fill="none"/>
<path d="M2429.2 912.2V930.9M2450.0 912.2V930.9M2470.7 912.2V930.9M2491.5 912.2V930.9M2533.4 912.2V930.9M2554.7 912.2V930.9M2575.9 912.2V930.9M2597.2 912.2V930.9M2638.9 912.2V930.9M2659.4 912.2V930.9M2680.0 912.2V930.9M2700.5 912.2V930.9M2741.5 912.2V930.9M2762.1 912.2V930.9M2782.6 912.2V930.9M2803.2 912.2V930.9M2844.6 912.2V930.9M2865.5 912.2V930.9M2886.4 912.2V930.9M2907.3 912.2V930.9M2928.2 912.2V930.9M2949.1 912.2V930.9" stroke="#bbb" stroke-width="0.8" fill="none"/>
<rect x="2669" y="915.3" width="2" height="2" fill="#000"/>
<rect x="2669" y="920.3" width="2" height="2" fill="#000"/>
<rect x="2669" y="925.3" width="2" height="2" fill="#000"/>
<rect x="2408.5" y="825.4" width="103.7" height="123.2" fill="none" stroke="#ff9a33" stroke-width="2.2"/>
<polyline points="2408.5,825.4 2451.0,789.7 2554.7,789.7 2512.2,825.4" fill="none" stroke="#ff9a33" stroke-width="1.8"/>
<rect x="2512.2" y="825.4" width="106.2" height="123.2" fill="none" stroke="#66cc33" stroke-width="2.2"/>
<polyline points="2512.2,825.4 2554.7,789.7 2660.9,789.7 2618.4,825.4" fill="none" stroke="#66cc33" stroke-width="1.8"/>
<rect x="2618.4" y="825.4" width="102.6" height="123.2" fill="none" stroke="#3d9cff" stroke-width="2.2"/>
<polyline points="2618.4,825.4 2660.9,789.7 2763.5,789.7 2721.0,825.4" fill="none" stroke="#3d9cff" stroke-width="1.8"/>
<rect x="2721.0" y="825.4" width="102.7" height="123.2" fill="none" stroke="#b87fb8" stroke-width="2.2"/>
<polyline points="2721.0,825.4 2763.5,789.7 2866.2,789.7 2823.7,825.4" fill="none" stroke="#b87fb8" stroke-width="1.8"/>
<rect x="2823.7" y="825.4" width="146.3" height="123.2" fill="none" stroke="#ff6b6b" stroke-width="2.2"/>
<polyline points="2823.7,825.4 2866.2,789.7 3012.5,789.7 2970.0,825.4" fill="none" stroke="#ff6b6b" stroke-width="1.8"/>
<polyline points="3012.5,789.6999999999999 3012.5,912.9 2970,948.6" fill="none" stroke="#ff6b6b" stroke-width="1.8"/>
<text x="2441.5" y="781.2" font-size="21">Guideline<tspan font-style="italic" dx="3">G</tspan></text>
<text x="2560.5" y="781.2" font-size="21">Problem<tspan font-style="italic" dx="7">P</tspan></text>
<text x="2664.5" y="781.2" font-size="21">Solutions<tspan font-style="italic" dx="7">S</tspan></text>
<text x="2772.0" y="781.2" font-size="21">Instruction<tspan font-style="italic" dx="5">I</tspan></text>
<text x="2898.5" y="781.2" font-size="21">Response<tspan font-style="italic" dx="3">R</tspan></text>
<rect x="2500.3" y="984.6" width="72.4" height="17.7" rx="0" fill="#fff2cc" stroke="#ff9a33" stroke-width="1.9"/>
<rect x="2572.8" y="984.6" width="72.5" height="17.7" rx="0" fill="#d5e8d4" stroke="#66cc33" stroke-width="1.9"/>
<rect x="2645.2" y="984.6" width="72.4" height="17.7" rx="0" fill="#dae8fc" stroke="#3d9cff" stroke-width="1.9"/>
<rect x="2717.7" y="984.6" width="72.5" height="17.7" rx="0" fill="#e1d5e7" stroke="#b87fb8" stroke-width="1.9"/>
<rect x="2790.1" y="984.6" width="72.4" height="17.7" rx="0" fill="#f8cecc" stroke="#ff6b6b" stroke-width="1.9"/>
<rect x="2498.6" y="1055.0" width="72.4" height="18.0" rx="0" fill="#ffe599" stroke="#ff9a33" stroke-width="1.9"/>
<rect x="2571.0" y="1055.0" width="72.5" height="18.0" rx="0" fill="#b9e0a5" stroke="#66cc33" stroke-width="1.9"/>
<rect x="2643.5" y="1055.0" width="72.4" height="18.0" rx="0" fill="#99ccff" stroke="#3d9cff" stroke-width="1.9"/>
<rect x="2715.9" y="1055.0" width="72.5" height="18.0" rx="0" fill="#cda2be" stroke="#b87fb8" stroke-width="1.9"/>
<rect x="2788.4" y="1055.0" width="72.4" height="18.0" rx="0" fill="#f19c99" stroke="#ff6b6b" stroke-width="1.9"/>
<text x="2417" y="999.6" font-size="21">AVGA<tspan font-family="DejaVu Math TeX Gyre, DejaVu Serif, serif" font-size="17.5" dy="5.5">𝒰</tspan></text>
<text x="2402.7" y="1068.6" font-size="21">CLAWS<tspan font-family="DejaVu Math TeX Gyre, DejaVu Serif, serif" font-size="17.5" dy="5.5">𝒰</tspan></text>
<polyline points="2461.2,949.6 2534.4,983.6" fill="none" stroke="#ff9a33" stroke-width="1.5" marker-end="url(#a3s_ff9a33)"/>
<polyline points="2565.6,949.6 2607.5,983.6" fill="none" stroke="#66cc33" stroke-width="1.5" marker-end="url(#a3s_66cc33)"/>
<polyline points="2669.4,949.6 2684.0,983.6" fill="none" stroke="#3d9cff" stroke-width="1.5" marker-end="url(#a3s_3d9cff)"/>
<polyline points="2772.0,949.6 2755.6,983.6" fill="none" stroke="#b87fb8" stroke-width="1.5" marker-end="url(#a3s_b87fb8)"/>
<polyline points="2895.8,949.6 2828.0,983.6" fill="none" stroke="#ff6b6b" stroke-width="1.5" marker-end="url(#a3s_ff6b6b)"/>
<polyline points="2681.5,1016.6 2681.5,1043.0" fill="none" stroke="#000" stroke-width="1.6" marker-end="url(#a3_000)"/>
<text x="2697.8" y="1035.6" font-size="21">Section-wise attention ratio (in %)</text>
<polyline points="2861.5,1064.2 3028.0,1064.2" fill="none" stroke="#000" stroke-width="1.6" marker-end="url(#a3_000)"/>
<text x="3192.0" y="801.0" font-size="21.4" text-anchor="middle" font-weight="bold" text-decoration="underline">Detection Performance</text>
<g stroke="#1f4e79" stroke-width="1"><rect x="3306.5" y="795" width="6.5" height="13" fill="#5b9bd5"/><rect x="3316.5" y="789" width="6.5" height="19" fill="#e06666"/><rect x="3326.8" y="782" width="6.5" height="26" fill="#5b9bd5"/></g><path d="M3306 788 L3314 781 M3309.5 781 H3314 V785.5" stroke="#222" stroke-width="1" fill="none"/>
<polyline points="3193.4,867.0 3193.4,815.0" fill="none" stroke="#000" stroke-width="1.6" marker-end="url(#a3_000)"/>
<rect x="3037.3" y="867.3" width="312.6" height="82.3" rx="11" fill="#fff" stroke="#888" stroke-width="1.4" stroke-dasharray="5 4"/>
<text x="3099.9" y="902.2" font-size="21" text-anchor="middle">Hallucinated</text>
<text x="3099.9" y="928.4" font-size="21" text-anchor="middle">Solution</text>
<text x="3205.6" y="902.2" font-size="21" text-anchor="middle">Creative</text>
<text x="3205.6" y="928.4" font-size="21" text-anchor="middle">Solution</text>
<text x="3293.7" y="902.2" font-size="21" text-anchor="middle">Typical</text>
<text x="3293.7" y="928.4" font-size="21" text-anchor="middle">Solution</text>
<polyline points="3162.1,883.3 3162.1,934.3" fill="none" stroke="#333" stroke-width="1.3"/>
<polyline points="3251.9,883.3 3251.9,934.3" fill="none" stroke="#333" stroke-width="1.3"/>
<polyline points="3193.4,1010.8 3193.4,950.6" fill="none" stroke="#000" stroke-width="1.6" marker-end="url(#a3_000)"/>
<rect x="3028.8" y="1010.8" width="338.4" height="106.2" rx="15" fill="#fdeeea" stroke="#000" stroke-width="1.8"/>
<rect x="3045.8" y="1040.4" width="29.6" height="44.2" rx="7" fill="none" stroke="#000" stroke-width="2.4"/>
<path d="M3075.4 1061.8 H3106 M3125 1027.8 H3111 Q3106.5 1027.8 3106.5 1032.3 V1091.3 Q3106.5 1095.8 3111 1095.8 H3125 M3106.5 1061.8 H3125" fill="none" stroke="#000" stroke-width="2.4"/>
<rect x="3125.4" y="1021" width="19.7" height="15.3" rx="1.5" fill="#000"/>
<rect x="3125.4" y="1055" width="19.7" height="15.3" rx="1.5" fill="#000"/>
<rect x="3125.4" y="1088" width="19.7" height="15.3" rx="1.5" fill="#000"/>
<path d="M3091.5 1043.6L3091.5 1034.8M3091.5 1034.8L3099.1 1039.2M3091.5 1043.6L3099.1 1039.2M3099.1 1039.2L3099.1 1048.0M3091.5 1043.6L3099.1 1048.0M3099.1 1048.0L3091.5 1052.4M3091.5 1043.6L3091.5 1052.4M3091.5 1052.4L3083.9 1048.0M3091.5 1043.6L3083.9 1048.0M3083.9 1048.0L3083.9 1039.2M3091.5 1043.6L3083.9 1039.2M3083.9 1039.2L3091.5 1034.8" stroke="#000" stroke-width="0.9" fill="none"/>
<circle cx="3091.5" cy="1043.6" r="2.3" fill="#fff" stroke="#000" stroke-width="0.9"/>
<circle cx="3091.5" cy="1034.8" r="2.3" fill="#fff" stroke="#000" stroke-width="0.9"/>
<circle cx="3099.1" cy="1039.2" r="2.3" fill="#fff" stroke="#000" stroke-width="0.9"/>
<circle cx="3099.1" cy="1048.0" r="2.3" fill="#fff" stroke="#000" stroke-width="0.9"/>
<circle cx="3091.5" cy="1052.4" r="2.3" fill="#fff" stroke="#000" stroke-width="0.9"/>
<circle cx="3083.9" cy="1048.0" r="2.3" fill="#fff" stroke="#000" stroke-width="0.9"/>
<circle cx="3083.9" cy="1039.2" r="2.3" fill="#fff" stroke="#000" stroke-width="0.9"/>
<text x="3158.7" y="1068.0" font-size="21">Evaluation Strategy</text>
<defs><marker id="a3_000" viewBox="0 0 10 10" refX="9" refY="5" markerWidth="8" markerHeight="8" orient="auto-start-reverse"><path d="M0 0.8 L10 5 L0 9.2 L2.8 5 z" fill="#000"/></marker><marker id="a3s_666" viewBox="0 0 10 10" refX="9" refY="5" markerWidth="6" markerHeight="6" orient="auto-start-reverse"><path d="M0 0.8 L10 5 L0 9.2 L2.8 5 z" fill="#666"/></marker><marker id="a3s_ff9a33" viewBox="0 0 10 10" refX="9" refY="5" markerWidth="6" markerHeight="6" orient="auto-start-reverse"><path d="M0 0.8 L10 5 L0 9.2 L2.8 5 z" fill="#ff9a33"/></marker><marker id="a3s_66cc33" viewBox="0 0 10 10" refX="9" refY="5" markerWidth="6" markerHeight="6" orient="auto-start-reverse"><path d="M0 0.8 L10 5 L0 9.2 L2.8 5 z" fill="#66cc33"/></marker><marker id="a3s_3d9cff" viewBox="0 0 10 10" refX="9" refY="5" markerWidth="6" markerHeight="6" orient="auto-start-reverse"><path d="M0 0.8 L10 5 L0 9.2 L2.8 5 z" fill="#3d9cff"/></marker><marker id="a3s_b87fb8" viewBox="0 0 10 10" refX="9" refY="5" markerWidth="6" markerHeight="6" orient="auto-start-reverse"><path d="M0 0.8 L10 5 L0 9.2 L2.8 5 z" fill="#b87fb8"/></marker><marker id="a3s_ff6b6b" viewBox="0 0 10 10" refX="9" refY="5" markerWidth="6" markerHeight="6" orient="auto-start-reverse"><path d="M0 0.8 L10 5 L0 9.2 L2.8 5 z" fill="#ff6b6b"/></marker></defs>
</svg>
<div class="t sans" style="left:2645.3px;transform:translateX(-50%);top:1147.8px;font-size:21.3px;"><b>Figure 3.</b> Architecture of CLAWS</div>
<style>
.rt{position:absolute;border-collapse:collapse;table-layout:fixed;font-family:"Liberation Serif",serif;font-size:15.2px;line-height:1;}
.rt td,.rt th{padding:0;text-align:center;vertical-align:middle;white-space:nowrap;overflow:visible;font-weight:normal;}
.rt th{font-weight:bold;}
.rt td.m{text-align:left;padding-left:2.3px;}
.rt td.s{background:#e8e8e8;}
.rt u{text-decoration-thickness:1px;text-underline-offset:2px;}
.rt sub{font-size:9.5px;vertical-align:-2px;line-height:0;}
.rt tr.d td{height:24.15px;}
.tl{position:absolute;background:#333;}
</style>
<table class="rt" id="t1" style="left:46.2px;top:1335.1px;width:907.5px;">
<colgroup><col style="width:86.8px"><col style="width:59.4px"><col style="width:42.8px"><col style="width:45.2px"><col style="width:42.8px"><col style="width:57.8px"><col style="width:46.0px"><col style="width:46.8px"><col style="width:47.0px"><col style="width:55.6px"><col style="width:44.6px"><col style="width:43.4px"><col style="width:44.6px"><col style="width:56.1px"><col style="width:42.8px"><col style="width:45.2px"><col style="width:42.8px"><col style="width:57.8px"></colgroup>
<thead>
<tr style="height:23.8px"><th colspan="2">Dataset</th><th colspan="4">TEST</th><th colspan="4">AMC</th><th colspan="4">AIME</th><th colspan="4">A(J)HSME</th></tr>
<tr style="height:23.9px"><th>Model</th><th style="text-align:left;padding-left:5px">Method</th><td>F1<sub>w</sub></td><td>F1<sub>m</sub></td><td>AP<sub>m</sub></td><td>AUROC</td><td>F1<sub>w</sub></td><td>F1<sub>m</sub></td><td>AP<sub>m</sub></td><td>AUROC</td><td>F1<sub>w</sub></td><td>F1<sub>m</sub></td><td>AP<sub>m</sub></td><td>AUROC</td><td>F1<sub>w</sub></td><td>F1<sub>m</sub></td><td>AP<sub>m</sub></td><td>AUROC</td></tr>
</thead>
<tbody>
<tr class="d"><td rowspan="6">Deepseek</td><td class="m">PPL</td><td class="s"><u>48.09</u></td><td class="s"><u>35.77</u></td><td class="s"><u>37.07</u></td><td class="s"><u>56.49</u></td><td class="s"><u>44.56</u></td><td class="s"><u>35.63</u></td><td class="s"><u>36.28</u></td><td class="s"><u>55.12</u></td><td class="s"><u>55.93</u></td><td class="s"><u>36.70</u></td><td class="s"><b>36.59</b></td><td class="s"><b>56.63</b></td><td><b>42.34</b></td><td><u>36.52</u></td><td><b>37.49</b></td><td><b>56.82</b></td></tr>
<tr class="d"><td class="m">WE</td><td class="s">18.59</td><td class="s">23.20</td><td class="s">35.89</td><td class="s">53.89</td><td>27.52</td><td>26.03</td><td>34.67</td><td>52.26</td><td class="s">9.07</td><td class="s">16.36</td><td class="s">33.67</td><td class="s">50.31</td><td>28.72</td><td>27.70</td><td>34.44</td><td>51.92</td></tr>
<tr class="d"><td class="m">LE</td><td>40.56</td><td>33.21</td><td>34.00</td><td>50.90</td><td>35.69</td><td>32.96</td><td>33.42</td><td>50.31</td><td>28.99</td><td>25.28</td><td>33.27</td><td>48.89</td><td>34.89</td><td>33.46</td><td>33.45</td><td>50.18</td></tr>
<tr class="d"><td class="m">HS</td><td>29.56</td><td>25.18</td><td>32.40</td><td>45.03</td><td>38.44</td><td>32.96</td><td>33.60</td><td>50.22</td><td>38.30</td><td>29.65</td><td>33.71</td><td>50.67</td><td>38.61</td><td>35.80</td><td>34.54</td><td>52.40</td></tr>
<tr class="d"><td class="m">AS</td><td>33.95</td><td>24.99</td><td>30.98</td><td>42.80</td><td>33.51</td><td>29.18</td><td>33.43</td><td>50.19</td><td>43.92</td><td>32.89</td><td>33.58</td><td>50.97</td><td>28.63</td><td>26.83</td><td>33.19</td><td>49.70</td></tr>
<tr class="d"><td class="m">CLAWS</td><td><b>58.66</b></td><td><b>46.01</b></td><td><b>41.17</b></td><td><b>62.09</b></td><td><b>46.71</b></td><td><b>40.99</b></td><td><b>37.16</b></td><td><b>56.40</b></td><td><b>56.90</b></td><td><b>38.12</b></td><td><u>35.38</u></td><td><u>54.47</u></td><td><u>38.82</u></td><td><b>37.64</b></td><td><u>36.25</u></td><td><u>54.40</u></td></tr>
<tr class="d"><td rowspan="6">Mathstral</td><td class="m">PPL</td><td>42.45</td><td>25.94</td><td>31.37</td><td>43.26</td><td>36.50</td><td>25.21</td><td>31.81</td><td>45.89</td><td>56.90</td><td>29.97</td><td>32.76</td><td>47.49</td><td>34.79</td><td>25.58</td><td>32.58</td><td>48.15</td></tr>
<tr class="d"><td class="m">WE</td><td>46.19</td><td><u>28.89</u></td><td><u>32.58</u></td><td>46.68</td><td><u>40.71</u></td><td><u>30.02</u></td><td>32.73</td><td>48.44</td><td>52.20</td><td>30.20</td><td>32.91</td><td>48.33</td><td><u>40.34</u></td><td><u>31.79</u></td><td><u>33.86</u></td><td><u>51.05</u></td></tr>
<tr class="d"><td class="m">LE</td><td>41.62</td><td>28.17</td><td>32.11</td><td>45.66</td><td>35.20</td><td>29.55</td><td>32.05</td><td>46.93</td><td>44.77</td><td>28.56</td><td>33.47</td><td>50.50</td><td>35.46</td><td>30.56</td><td>32.40</td><td>47.77</td></tr>
<tr class="d"><td class="m">HS</td><td><u>49.86</u></td><td>26.53</td><td>32.49</td><td><u>47.07</u></td><td class="s">37.37</td><td class="s">23.46</td><td class="s"><u>33.33</u></td><td class="s"><u>49.97</u></td><td><b>65.96</b></td><td>31.13</td><td>33.46</td><td>50.23</td><td class="s">33.42</td><td class="s">22.65</td><td class="s">33.42</td><td class="s">50.14</td></tr>
<tr class="d"><td class="m">AS</td><td>38.41</td><td>24.50</td><td>31.23</td><td>42.22</td><td>36.92</td><td>27.53</td><td>32.02</td><td>46.69</td><td>57.35</td><td>31.95</td><td>33.51</td><td>49.82</td><td>35.26</td><td>27.57</td><td>32.41</td><td>47.60</td></tr>
<tr class="d"><td class="m">CLAWS</td><td><b>63.20</b></td><td><b>46.05</b></td><td><b>41.75</b></td><td><b>63.70</b></td><td><b>51.47</b></td><td><b>41.45</b></td><td><b>37.89</b></td><td><b>57.69</b></td><td><u>65.25</u></td><td><b>36.05</b></td><td><b>34.43</b></td><td><b>52.73</b></td><td><b>49.13</b></td><td><b>42.29</b></td><td><b>38.20</b></td><td><b>58.18</b></td></tr>
<tr class="d"><td rowspan="6">OpenMath2</td><td class="m">PPL</td><td>36.47</td><td>27.52</td><td>32.72</td><td>47.30</td><td>41.10</td><td>31.45</td><td>33.12</td><td>49.24</td><td>40.44</td><td>30.49</td><td>32.18</td><td>47.57</td><td>39.22</td><td>30.05</td><td>33.13</td><td>48.56</td></tr>
<tr class="d"><td class="m">WE</td><td>40.89</td><td>32.14</td><td>33.84</td><td>50.50</td><td><u>43.44</u></td><td>34.48</td><td>33.93</td><td>51.19</td><td>40.55</td><td>31.17</td><td>33.37</td><td>50.00</td><td><u>42.45</u></td><td>34.16</td><td>33.99</td><td>51.08</td></tr>
<tr class="d"><td class="m">LE</td><td><u>47.48</u></td><td><u>35.96</u></td><td><u>35.15</u></td><td><u>53.15</u></td><td>43.17</td><td><u>36.18</u></td><td><u>34.28</u></td><td><u>52.62</u></td><td><u>41.82</u></td><td><u>33.10</u></td><td>34.32</td><td><b>52.92</b></td><td>42.38</td><td><u>37.55</u></td><td><u>34.70</u></td><td><u>53.28</u></td></tr>
<tr class="d"><td class="m">HS</td><td>30.48</td><td>23.20</td><td>30.77</td><td>41.57</td><td>33.02</td><td>26.78</td><td>31.17</td><td>44.52</td><td>40.45</td><td>32.09</td><td>32.63</td><td>49.34</td><td>31.62</td><td>26.55</td><td>31.37</td><td>44.93</td></tr>
<tr class="d"><td class="m">AS</td><td>33.20</td><td>24.48</td><td>30.65</td><td>42.17</td><td>32.84</td><td>27.77</td><td>31.89</td><td>46.75</td><td>40.42</td><td>30.96</td><td>48.59</td><td>32.59</td><td>31.03</td><td>27.53</td><td>32.09</td><td>47.04</td></tr>
<tr class="d"><td class="m">CLAWS</td><td><b>60.86</b></td><td><b>44.27</b></td><td><b>40.77</b></td><td><b>60.66</b></td><td><b>54.32</b></td><td><b>42.12</b></td><td><b>38.53</b></td><td><b>58.06</b></td><td><b>49.35</b></td><td><b>34.41</b></td><td><u>35.35</u></td><td><u>52.00</u></td><td><b>50.88</b></td><td><b>41.36</b></td><td><b>37.73</b></td><td><b>57.22</b></td></tr>
<tr class="d"><td rowspan="6">OREAL</td><td class="m">PPL</td><td class="s">46.52</td><td class="s">27.81</td><td class="s">31.78</td><td class="s">45.60</td><td class="s">41.68</td><td class="s">26.38</td><td class="s">31.25</td><td class="s">44.27</td><td class="s">55.96</td><td class="s">28.11</td><td class="s">32.64</td><td class="s">47.36</td><td class="s">36.90</td><td class="s">24.83</td><td class="s">31.03</td><td class="s">43.62</td></tr>
<tr class="d"><td class="m">WE</td><td>49.57</td><td>27.39</td><td>32.80</td><td>48.26</td><td>44.87</td><td>27.32</td><td>32.87</td><td>48.82</td><td><u>66.65</u></td><td>32.63</td><td>33.48</td><td>51.28</td><td>36.37</td><td>24.79</td><td>32.79</td><td>48.44</td></tr>
<tr class="d"><td class="m">LE</td><td><b>55.39</b></td><td><u>36.15</u></td><td><u>34.46</u></td><td><u>53.11</u></td><td><b>49.80</b></td><td><b>35.95</b></td><td><u>34.43</u></td><td><u>53.30</u></td><td>63.53</td><td><b>33.86</b></td><td><b>34.02</b></td><td><b>53.06</b></td><td><u>41.06</u></td><td><u>31.86</u></td><td><u>33.29</u></td><td><u>50.47</u></td></tr>
<tr class="d"><td class="m">HS</td><td>51.95</td><td>29.46</td><td>32.60</td><td>47.90</td><td><u>48.58</u></td><td>28.28</td><td>33.20</td><td>49.60</td><td><b>68.10</b></td><td>31.63</td><td>33.30</td><td>49.22</td><td><b>41.65</b></td><td>28.36</td><td>33.12</td><td>49.62</td></tr>
<tr class="d"><td class="m">AS</td><td>45.56</td><td>28.24</td><td>31.83</td><td>45.56</td><td>47.92</td><td>29.11</td><td>32.70</td><td>48.25</td><td>65.19</td><td><u>32.74</u></td><td>33.20</td><td>49.56</td><td>40.18</td><td>26.41</td><td>32.74</td><td>48.48</td></tr>
<tr class="d"><td class="m">CLAWS</td><td><u>54.19</u></td><td><b>40.18</b></td><td><b>38.15</b></td><td><b>59.46</b></td><td>43.83</td><td><u>34.77</u></td><td><b>35.57</b></td><td><b>54.78</b></td><td>59.95</td><td><u>32.74</u></td><td><u>33.81</u></td><td><u>51.55</u></td><td>35.70</td><td><b>31.93</b></td><td><b>35.51</b></td><td><b>54.41</b></td></tr>
<tr class="d"><td rowspan="6">Qwen-2.5</td><td class="m">PPL</td><td>25.66</td><td>23.30</td><td>31.76</td><td>42.62</td><td>26.40</td><td>21.39</td><td>31.71</td><td>43.31</td><td>28.29</td><td>25.29</td><td>32.00</td><td>44.52</td><td>24.88</td><td>20.34</td><td>32.09</td><td>44.79</td></tr>
<tr class="d"><td class="m">WE</td><td>30.79</td><td>29.40</td><td>34.71</td><td>52.50</td><td>22.04</td><td>26.04</td><td>33.80</td><td>51.15</td><td>33.23</td><td>29.08</td><td>33.12</td><td>49.24</td><td>20.50</td><td>23.61</td><td>33.12</td><td>49.51</td></tr>
<tr class="d"><td class="m">LE</td><td><b>50.81</b></td><td><b>45.29</b></td><td><u>39.50</u></td><td><b>59.80</b></td><td>45.86</td><td><u>40.18</u></td><td><u>36.15</u></td><td><u>55.81</u></td><td><b>43.20</b></td><td><b>39.01</b></td><td><b>36.40</b></td><td><b>55.83</b></td><td>45.70</td><td><b>38.64</b></td><td><u>35.23</u></td><td><u>54.09</u></td></tr>
<tr class="d"><td class="m">HS</td><td>30.67</td><td>28.31</td><td>36.25</td><td>54.53</td><td><u>47.57</u></td><td>31.98</td><td>34.81</td><td>52.98</td><td class="s">20.37</td><td class="s">24.17</td><td class="s"><u>34.57</u></td><td class="s"><u>52.83</u></td><td><b>48.52</b></td><td>32.54</td><td>34.78</td><td>52.77</td></tr>
<tr class="d"><td class="m">AS</td><td>30.75</td><td>26.96</td><td>32.05</td><td>45.53</td><td>38.61</td><td>31.55</td><td>32.93</td><td>48.78</td><td>37.32</td><td><u>33.71</u></td><td>33.92</td><td>51.42</td><td>33.72</td><td>28.55</td><td>32.86</td><td>48.35</td></tr>
<tr class="d"><td class="m">CLAWS</td><td><u>50.35</u></td><td><u>43.37</u></td><td><b>39.88</b></td><td><u>59.32</u></td><td><b>52.77</b></td><td><b>41.39</b></td><td><b>37.45</b></td><td><b>57.59</b></td><td><u>39.05</u></td><td>32.31</td><td>33.08</td><td>49.31</td><td><u>47.90</u></td><td><u>36.04</u></td><td><b>35.86</b></td><td><b>54.94</b></td></tr>
</tbody></table>
<div class="tl" style="left:46.2px;top:1334.4px;width:907.5px;height:1.3px"></div>
<div class="tl" style="left:46.2px;top:1358.2px;width:907.5px;height:1.3px"></div>
<div class="tl" style="left:46.2px;top:1382.1px;width:907.5px;height:1.3px"></div>
<div class="tl" style="left:46.2px;top:1527.0px;width:907.5px;height:1.3px"></div>
<div class="tl" style="left:46.2px;top:1671.9px;width:907.5px;height:1.3px"></div>
<div class="tl" style="left:46.2px;top:1816.8px;width:907.5px;height:1.3px"></div>
<div class="tl" style="left:46.2px;top:1961.7px;width:907.5px;height:1.3px"></div>
<div class="tl" style="left:46.2px;top:2106.6px;width:907.5px;height:1.3px"></div>
<div class="tl" style="left:191.8px;top:1335.1px;width:1.2px;height:772.2px"></div>
<div class="tl" style="left:380.4px;top:1335.1px;width:1.2px;height:772.2px"></div>
<div class="tl" style="left:575.8px;top:1335.1px;width:1.2px;height:772.2px"></div>
<div class="tl" style="left:764.5px;top:1335.1px;width:1.2px;height:772.2px"></div>
<table class="rt" id="t2" style="left:975.4px;top:1335.1px;width:907.5px;">
<colgroup><col style="width:86.8px"><col style="width:59.4px"><col style="width:42.8px"><col style="width:45.2px"><col style="width:42.8px"><col style="width:57.8px"><col style="width:46.0px"><col style="width:46.8px"><col style="width:47.0px"><col style="width:55.6px"><col style="width:44.6px"><col style="width:43.4px"><col style="width:44.6px"><col style="width:56.1px"><col style="width:42.8px"><col style="width:45.2px"><col style="width:42.8px"><col style="width:57.8px"></colgroup>
<thead>
<tr style="height:23.8px"><th colspan="2">Dataset</th><th colspan="4">TEST</th><th colspan="4">AMC</th><th colspan="4">AIME</th><th colspan="4">A(J)HSME</th></tr>
<tr style="height:23.9px"><th>Model</th><th style="text-align:left;padding-left:5px">Method</th><td>F1<sub>w</sub></td><td>F1<sub>m</sub></td><td>AP<sub>m</sub></td><td>AUROC</td><td>F1<sub>w</sub></td><td>F1<sub>m</sub></td><td>AP<sub>m</sub></td><td>AUROC</td><td>F1<sub>w</sub></td><td>F1<sub>m</sub></td><td>AP<sub>m</sub></td><td>AUROC</td><td>F1<sub>w</sub></td><td>F1<sub>m</sub></td><td>AP<sub>m</sub></td><td>AUROC</td></tr>
</thead>
<tbody>
<tr class="d"><td rowspan="6">Deepseek</td><td class="m">PPL</td><td><u>37.63</u></td><td><u>40.32</u></td><td><u>45.13</u></td><td><u>53.06</u></td><td><u>52.18</u></td><td><u>45.38</u></td><td><u>62.33</u></td><td><u>51.95</u></td><td><u>39.75</u></td><td><u>42.77</u></td><td><u>36.16</u></td><td><u>55.60</u></td><td><u>55.31</u></td><td><u>46.20</u></td><td><u>65.42</u></td><td><u>52.25</u></td></tr>
<tr class="d"><td class="m">WE</td><td class="s">26.44</td><td class="s">30.34</td><td class="s">43.56</td><td class="s">50.00</td><td class="s">46.70</td><td class="s">38.04</td><td class="s">61.39</td><td class="s">50.00</td><td class="s">16.77</td><td class="s">25.06</td><td class="s">33.45</td><td class="s">50.00</td><td class="s">50.42</td><td class="s">39.16</td><td class="s">64.37</td><td class="s">50.00</td></tr>
<tr class="d"><td class="m">LE</td><td>27.66</td><td>31.46</td><td>43.81</td><td>50.50</td><td>46.82</td><td>38.19</td><td>61.40</td><td>50.03</td><td>17.22</td><td>25.35</td><td>33.36</td><td>49.81</td><td class="s">50.37</td><td class="s">39.12</td><td class="s">64.33</td><td class="s">49.92</td></tr>
<tr class="d"><td class="m">HS</td><td class="s">26.41</td><td class="s">30.31</td><td class="s">43.52</td><td class="s">49.92</td><td>47.11</td><td>38.56</td><td>61.48</td><td>50.20</td><td>17.64</td><td>25.74</td><td>33.54</td><td>50.19</td><td>50.61</td><td>39.51</td><td>64.34</td><td>49.93</td></tr>
<tr class="d"><td class="m">AS</td><td>26.60</td><td>30.45</td><td>43.43</td><td>49.72</td><td class="s">46.68</td><td class="s">38.02</td><td class="s">61.37</td><td class="s">49.97</td><td class="s">16.77</td><td class="s">25.06</td><td class="s">33.45</td><td class="s">50.00</td><td>50.59</td><td>39.43</td><td>64.38</td><td>50.03</td></tr>
<tr class="d"><td class="m">CLAWS</td><td><b>67.46</b></td><td><b>67.24</b></td><td><b>55.73</b></td><td><b>67.78</b></td><td><b>61.77</b></td><td><b>59.79</b></td><td><b>66.64</b></td><td><b>59.84</b></td><td><b>61.95</b></td><td><b>58.17</b></td><td><b>38.45</b></td><td><b>58.68</b></td><td><b>64.93</b></td><td><b>61.67</b></td><td><b>70.38</b></td><td><b>61.62</b></td></tr>
<tr class="d"><td rowspan="6">Mathstral</td><td class="m">PPL</td><td class="s">17.09</td><td class="s">25.27</td><td class="s"><u>33.82</u></td><td class="s"><u>50.00</u></td><td class="s">29.62</td><td class="s">31.76</td><td class="s">46.58</td><td class="s">49.90</td><td>9.44</td><td>19.45</td><td>23.98</td><td>50.05</td><td>33.84</td><td>33.58</td><td>50.37</td><td>49.95</td></tr>
<tr class="d"><td class="m">WE</td><td class="s">17.09</td><td class="s">25.27</td><td class="s"><u>33.82</u></td><td class="s"><u>50.00</u></td><td>29.71</td><td>31.84</td><td>46.62</td><td>49.96</td><td>9.61</td><td>19.57</td><td>24.00</td><td>50.11</td><td>33.89</td><td>33.63</td><td>50.42</td><td>50.05</td></tr>
<tr class="d"><td class="m">LE</td><td><u>17.36</u></td><td><u>25.47</u></td><td><u>33.82</u></td><td><u>50.00</u></td><td class="s">29.65</td><td class="s">31.79</td><td class="s">46.62</td><td class="s">49.97</td><td><u>10.12</u></td><td><u>19.94</u></td><td><u>24.06</u></td><td><u>50.27</u></td><td><u>34.24</u></td><td><u>33.98</u></td><td><u>50.50</u></td><td><u>50.21</u></td></tr>
<tr class="d"><td class="m">HS</td><td>17.03</td><td>25.08</td><td>33.48</td><td>49.24</td><td><u>30.11</u></td><td><u>32.18</u></td><td>46.36</td><td>49.44</td><td class="s">9.26</td><td class="s">19.33</td><td class="s">23.96</td><td class="s">50.00</td><td>33.96</td><td>33.70</td><td>50.39</td><td>50.00</td></tr>
<tr class="d"><td class="m">AS</td><td class="s">17.09</td><td class="s">25.27</td><td class="s"><u>33.82</u></td><td class="s"><u>50.00</u></td><td class="s">29.66</td><td class="s">31.80</td><td class="s"><u>46.64</u></td><td class="s"><u>50.00</u></td><td class="s">9.26</td><td class="s">19.33</td><td class="s">23.96</td><td class="s">50.00</td><td class="s">33.77</td><td class="s">33.51</td><td class="s">50.39</td><td class="s">50.00</td></tr>
<tr class="d"><td class="m">CLAWS</td><td><b>72.99</b></td><td><b>69.59</b></td><td><b>49.42</b></td><td><b>69.30</b></td><td><b>63.97</b></td><td><b>63.90</b></td><td><b>55.69</b></td><td><b>64.04</b></td><td><b>65.62</b></td><td><b>50.26</b></td><td><b>24.19</b></td><td><b>50.59</b></td><td><b>61.05</b></td><td><b>61.04</b></td><td><b>57.10</b></td><td><b>61.04</b></td></tr>
<tr class="d"><td rowspan="6">OpenMath2</td><td class="m">PPL</td><td><u>31.78</u></td><td><u>34.68</u></td><td>44.16</td><td>49.74</td><td><u>45.53</u></td><td><u>40.17</u></td><td>58.19</td><td>49.51</td><td><u>34.68</u></td><td><u>36.15</u></td><td>45.52</td><td>47.20</td><td><u>49.49</u></td><td><u>41.63</u></td><td>61.65</td><td>48.76</td></tr>
<tr class="d"><td class="m">WE</td><td class="s">27.19</td><td class="s">30.70</td><td class="s">44.29</td><td class="s">50.00</td><td class="s">43.09</td><td class="s">36.88</td><td class="s">58.42</td><td class="s">50.00</td><td class="s">29.91</td><td class="s">31.91</td><td class="s">46.86</td><td class="s">50.00</td><td class="s">47.74</td><td class="s">38.36</td><td class="s">62.23</td><td class="s">50.00</td></tr>
<tr class="d"><td class="m">LE</td><td>28.14</td><td>31.55</td><td><u>44.39</u></td><td><u>50.20</u></td><td>43.18</td><td>36.99</td><td>58.41</td><td>49.97</td><td>30.38</td><td>32.35</td><td>46.89</td><td>50.06</td><td>48.09</td><td>38.81</td><td><u>62.32</u></td><td><u>50.21</u></td></tr>
<tr class="d"><td class="m">HS</td><td>27.55</td><td>31.01</td><td>44.27</td><td>49.95</td><td>43.40</td><td>37.27</td><td><u>58.43</u></td><td><u>50.01</u></td><td>31.30</td><td>33.21</td><td><u>46.95</u></td><td><u>50.17</u></td><td>47.68</td><td>38.37</td><td>62.12</td><td>49.78</td></tr>
<tr class="d"><td class="m">AS</td><td>27.46</td><td>30.94</td><td>44.32</td><td>50.05</td><td>43.30</td><td>37.16</td><td>58.39</td><td>49.92</td><td>30.09</td><td>32.08</td><td>46.90</td><td>50.08</td><td>48.14</td><td>38.90</td><td>62.30</td><td>50.15</td></tr>
<tr class="d"><td class="m">CLAWS</td><td><b>64.91</b></td><td><b>64.70</b></td><td><b>54.19</b></td><td><b>65.05</b></td><td><b>62.53</b></td><td><b>61.65</b></td><td><b>65.19</b></td><td><b>61.82</b></td><td><b>58.10</b></td><td><b>57.50</b></td><td><b>52.32</b></td><td><b>58.47</b></td><td><b>63.88</b></td><td><b>61.81</b></td><td><b>68.70</b></td><td><b>61.96</b></td></tr>
<tr class="d"><td rowspan="6">OREAL</td><td class="m">PPL</td><td>16.96</td><td>25.09</td><td>32.61</td><td>49.23</td><td>21.37</td><td>27.87</td><td>37.65</td><td>49.67</td><td>6.79</td><td>16.08</td><td>18.33</td><td>49.13</td><td>28.09</td><td>31.19</td><td>44.51</td><td>49.32</td></tr>
<tr class="d"><td class="m">WE</td><td><u>23.20</u></td><td><u>29.92</u></td><td><u>33.39</u></td><td><u>50.99</u></td><td>22.04</td><td>28.48</td><td><u>37.93</u></td><td><u>50.26</u></td><td><u>10.95</u></td><td><u>18.75</u></td><td>18.58</td><td>49.96</td><td>28.10</td><td>31.27</td><td>44.88</td><td>50.09</td></tr>
<tr class="d"><td class="m">LE</td><td>20.75</td><td>27.91</td><td>32.84</td><td>49.75</td><td><u>23.17</u></td><td><u>29.34</u></td><td>37.87</td><td>50.14</td><td>10.03</td><td>18.33</td><td><u>18.77</u></td><td><u>50.60</u></td><td><u>30.50</u></td><td><u>33.45</u></td><td><u>45.22</u></td><td><u>50.75</u></td></tr>
<tr class="d"><td class="m">HS</td><td class="s">16.33</td><td class="s">24.78</td><td class="s">32.95</td><td class="s">50.00</td><td class="s">20.69</td><td class="s">27.37</td><td class="s">37.73</td><td class="s">49.83</td><td>6.01</td><td>15.80</td><td>18.60</td><td>50.05</td><td class="s">27.74</td><td class="s">30.93</td><td class="s">44.81</td><td class="s">49.94</td></tr>
<tr class="d"><td class="m">AS</td><td>16.47</td><td>24.78</td><td>32.71</td><td>49.45</td><td>20.99</td><td>27.59</td><td>37.71</td><td>49.79</td><td>6.17</td><td>15.85</td><td>18.55</td><td>49.87</td><td>28.04</td><td>31.11</td><td>44.32</td><td>48.94</td></tr>
<tr class="d"><td class="m">CLAWS</td><td><b>58.13</b></td><td><b>56.36</b></td><td><b>38.36</b></td><td><b>59.87</b></td><td><b>53.10</b></td><td><b>53.06</b></td><td><b>41.17</b></td><td><b>56.34</b></td><td><b>64.02</b></td><td><b>49.22</b></td><td><b>18.98</b></td><td><b>51.22</b></td><td><b>53.96</b></td><td><b>54.41</b></td><td><b>48.36</b></td><td><b>56.42</b></td></tr>
<tr class="d"><td rowspan="6">Qwen-2.5</td><td class="m">PPL</td><td class="s">41.30</td><td class="s">35.91</td><td class="s">56.88</td><td class="s">48.72</td><td class="s">41.30</td><td class="s">35.91</td><td class="s">56.88</td><td class="s">48.72</td><td>33.74</td><td>33.64</td><td>50.05</td><td>49.81</td><td>76.90</td><td><u>46.45</u></td><td>84.45</td><td>49.38</td></tr>
<tr class="d"><td class="m">WE</td><td class="s">41.98</td><td class="s">36.51</td><td class="s">57.50</td><td class="s">50.00</td><td class="s">41.98</td><td class="s">36.51</td><td class="s">57.50</td><td class="s">50.00</td><td>33.70</td><td>33.61</td><td><u>50.19</u></td><td><u>50.09</u></td><td><b>77.69</b></td><td>46.20</td><td><u>84.66</u></td><td><u>50.18</u></td></tr>
<tr class="d"><td class="m">LE</td><td><u>47.87</u></td><td><u>43.32</u></td><td><u>58.86</u></td><td><u>52.72</u></td><td><u>47.87</u></td><td><u>43.32</u></td><td><u>58.86</u></td><td><u>52.72</u></td><td><u>38.32</u></td><td><u>38.24</u></td><td><b>51.16</b></td><td><b>51.99</b></td><td><u>77.58</u></td><td>46.13</td><td>84.62</td><td>50.05</td></tr>
<tr class="d"><td class="m">HS</td><td>42.12</td><td>36.67</td><td>57.51</td><td>50.02</td><td>42.12</td><td>36.67</td><td>57.51</td><td>50.02</td><td class="s">33.49</td><td class="s">33.40</td><td class="s">50.14</td><td class="s">50.00</td><td class="s">77.53</td><td class="s">45.82</td><td class="s">84.60</td><td class="s">49.97</td></tr>
<tr class="d"><td class="m">AS</td><td class="s">41.92</td><td class="s">36.45</td><td class="s">57.44</td><td class="s">49.87</td><td class="s">41.92</td><td class="s">36.45</td><td class="s">57.44</td><td class="s">49.87</td><td class="s">33.49</td><td class="s">33.40</td><td class="s">50.14</td><td class="s">50.00</td><td>77.44</td><td>46.04</td><td>84.58</td><td>49.89</td></tr>
<tr class="d"><td class="m">CLAWS</td><td><b>54.67</b></td><td><b>53.30</b></td><td><b>59.21</b></td><td><b>53.35</b></td><td><b>72.13</b></td><td><b>55.12</b></td><td><b>80.75</b></td><td><b>54.82</b></td><td><b>47.08</b></td><td><b>47.10</b></td><td>49.11</td><td>47.82</td><td>74.68</td><td><b>52.33</b></td><td><b>85.25</b></td><td><b>52.44</b></td></tr>
</tbody></table>
<div class="tl" style="left:975.4px;top:1334.4px;width:907.5px;height:1.3px"></div>
<div class="tl" style="left:975.4px;top:1358.2px;width:907.5px;height:1.3px"></div>
<div class="tl" style="left:975.4px;top:1382.1px;width:907.5px;height:1.3px"></div>
<div class="tl" style="left:975.4px;top:1527.0px;width:907.5px;height:1.3px"></div>
<div class="tl" style="left:975.4px;top:1671.9px;width:907.5px;height:1.3px"></div>
<div class="tl" style="left:975.4px;top:1816.8px;width:907.5px;height:1.3px"></div>
<div class="tl" style="left:975.4px;top:1961.7px;width:907.5px;height:1.3px"></div>
<div class="tl" style="left:975.4px;top:2106.6px;width:907.5px;height:1.3px"></div>
<div class="tl" style="left:1121.0px;top:1335.1px;width:1.2px;height:772.2px"></div>
<div class="tl" style="left:1309.6px;top:1335.1px;width:1.2px;height:772.2px"></div>
<div class="tl" style="left:1505.0px;top:1335.1px;width:1.2px;height:772.2px"></div>
<div class="tl" style="left:1693.7px;top:1335.1px;width:1.2px;height:772.2px"></div>
<div class="t sans" style="left:516.7px;transform:translateX(-50%);top:2127.8px;font-size:21.2px;"><b>Table1</b>. Results for Creativity detection</div>
<div class="t sans" style="left:1438.6px;transform:translateX(-50%);top:2127.8px;font-size:21.2px;"><b>Table2</b>. Results for Hallucination detection</div>
<div class="t sans" style="left:1936.8px;top:1326.8px;font-size:23.5px;">•</div>
<div id="rb0"><div class="t sans" style="left:1970.7px;top:1324.6px;width:1000.0px;font-size:28px;"><b>Perplexity (PPL):</b> average inverse probability of the target tokens,</div>
</div><div id="rb1"><div class="t sans" style="left:1970.7px;top:1365.9px;width:1000.0px;font-size:28px;">computed as the exponential of the negative mean log-likelihood.</div>
</div><div class="t sans" style="left:1936.8px;top:1406.7px;font-size:23.5px;">•</div>
<div id="rb2"><div class="t sans" style="left:1970.7px;top:1404.5px;width:1000.0px;font-size:28px;"><b>Window Logit Entropy (WE):</b> logit entropy over sliding windows</div>
</div><div class="t sans" style="left:1936.8px;top:1447.3px;font-size:23.5px;">•</div>
<div id="rb3"><div class="t sans" style="left:1970.7px;top:1445.1px;width:1000.0px;font-size:28px;"><b>Logit Entropy (LE):</b> entropy over the model’s output logits, computed</div>
</div><div id="rb4"><div class="t sans" style="left:1970.7px;top:1485.7px;width:1000.0px;font-size:28px;">from the probability distribution derived via softmax.</div>
</div><div class="t sans" style="left:1936.8px;top:1527.8px;font-size:23.5px;">•</div>
<div id="rb5"><div class="t sans" style="left:1970.7px;top:1525.6px;width:1000.0px;font-size:28px;"><b>Hidden Score (HS):</b> variance in representation diversity, computed by</div>
</div><div id="rb6"><div class="t sans" style="left:1970.7px;top:1565.6px;width:1000.0px;font-size:28px;">performing an eigen-decomposition</div>
</div><div class="t sans" style="left:1936.8px;top:1608.4px;font-size:23.5px;">•</div>
<div id="rb7"><div class="t sans" style="left:1970.7px;top:1606.2px;width:1000.0px;font-size:28px;"><b>Attention Score (AS):</b> self-attention by analyzing the diagonal entries of</div>
</div><div id="rb8"><div class="t sans" style="left:1970.7px;top:1646.8px;width:1000.0px;font-size:28px;">the self-attention kernel matrix</div>
</div><div class="t sans" style="left:1928.3px;top:1988.7px;font-size:23.5px;">•</div>
<div class="t sans" style="left:1957.6px;top:1986.5px;width:1440.0px;font-size:28px;"><b>Results for Creativity detection:</b> CLAWS outperformed all models on the all dataset across all four metrics,</div>
<div class="t sans" style="left:1957.6px;top:2020.6px;width:1440.0px;font-size:28px;">achieving superior creativity detection performance compared with five white-box baselines.</div>
<div class="t sans" style="left:1928.3px;top:2056.2px;font-size:23.5px;">•</div>
<div class="t sans" style="left:1957.6px;top:2054.0px;width:1440.0px;font-size:28px;"><b>Results for Hallucination detection:</b> CLAWS consistently achieved the best performance across all evaluation</div>
<div class="t sans" style="left:1957.6px;top:2088.0px;width:1440.0px;font-size:28px;">metrics and models.</div>
<div class="t sans" style="left:1928.3px;top:2124.3px;font-size:23.5px;">•</div>
<div class="t sans" style="left:1957.6px;top:2122.1px;width:1440.0px;font-size:28px;"><b>Results on Runtime Consumption:</b> CLAWS recorded the highest efficiency among all baselines.</div>
<svg style="left:0;top:0;overflow:visible" width="1" height="1" font-family="Liberation Serif, serif">
<text x="3138.0" y="1317.3" font-size="23.9" text-anchor="middle" font-weight="bold">Average Runtime per Method</text>
<text x="2921.5" y="1617.6" font-size="13.2" text-anchor="end">0</text>
<line x1="2932.5" y1="1566.5" x2="3381" y2="1566.5" stroke="#ececec" stroke-width="1"/>
<text x="2921.5" y="1570.8" font-size="13.2" text-anchor="end">0.1</text>
<line x1="2932.5" y1="1519.7" x2="3381" y2="1519.7" stroke="#ececec" stroke-width="1"/>
<text x="2921.5" y="1524.0" font-size="13.2" text-anchor="end">0.2</text>
<line x1="2932.5" y1="1472.8" x2="3381" y2="1472.8" stroke="#ececec" stroke-width="1"/>
<text x="2921.5" y="1477.1" font-size="13.2" text-anchor="end">0.3</text>
<line x1="2932.5" y1="1426.0" x2="3381" y2="1426.0" stroke="#ececec" stroke-width="1"/>
<text x="2921.5" y="1430.3" font-size="13.2" text-anchor="end">0.4</text>
<line x1="2932.5" y1="1379.2" x2="3381" y2="1379.2" stroke="#ececec" stroke-width="1"/>
<text x="2921.5" y="1383.5" font-size="13.2" text-anchor="end">0.5</text>
<text x="2921.5" y="1336.7" font-size="13.2" text-anchor="end">0.6</text>
<rect x="2943.7" y="1487.4" width="51.7" height="125.9" fill="#f5a83a"/>
<text x="2969.5" y="1478.4" font-size="12.9" text-anchor="middle">0.269</text>
<text x="2969.5" y="1634.6" font-size="14.7" text-anchor="middle">PPL</text>
<line x1="2969.5" y1="1613.3" x2="2969.5" y2="1616.8" stroke="#222" stroke-width="0.9"/>
<rect x="3018.6" y="1426.5" width="51.7" height="186.8" fill="#f5a83a"/>
<text x="3044.4" y="1417.5" font-size="12.9" text-anchor="middle">0.399</text>
<text x="3044.4" y="1634.6" font-size="14.7" text-anchor="middle">WE</text>
<line x1="3044.4" y1="1613.3" x2="3044.4" y2="1616.8" stroke="#222" stroke-width="0.9"/>
<rect x="3093.5" y="1547.8" width="51.7" height="65.5" fill="#f5a83a"/>
<text x="3119.3" y="1538.8" font-size="12.9" text-anchor="middle">0.14</text>
<text x="3119.3" y="1634.6" font-size="14.7" text-anchor="middle">LE</text>
<line x1="3119.3" y1="1613.3" x2="3119.3" y2="1616.8" stroke="#222" stroke-width="0.9"/>
<rect x="3168.4" y="1367.0" width="51.7" height="246.3" fill="#f5a83a"/>
<text x="3194.2" y="1358.0" font-size="12.9" text-anchor="middle">0.526</text>
<text x="3194.2" y="1634.6" font-size="14.7" text-anchor="middle">HS</text>
<line x1="3194.2" y1="1613.3" x2="3194.2" y2="1616.8" stroke="#222" stroke-width="0.9"/>
<rect x="3243.3" y="1560.4" width="51.7" height="52.9" fill="#f5a83a"/>
<text x="3269.1" y="1551.4" font-size="12.9" text-anchor="middle">0.113</text>
<text x="3269.1" y="1634.6" font-size="14.7" text-anchor="middle">AS</text>
<line x1="3269.1" y1="1613.3" x2="3269.1" y2="1616.8" stroke="#222" stroke-width="0.9"/>
<rect x="3318.2" y="1595.0" width="51.7" height="18.3" fill="#f5a83a"/>
<text x="3344.0" y="1586.0" font-size="12.9" text-anchor="middle">0.039</text>
<text x="3344.0" y="1634.6" font-size="14.7" text-anchor="middle">CLAWS</text>
<line x1="3344.0" y1="1613.3" x2="3344.0" y2="1616.8" stroke="#222" stroke-width="0.9"/>
<rect x="2932.5" y="1332.4" width="448.5" height="280.89999999999986" fill="none" stroke="#555" stroke-width="0.9"/>
<line x1="2932.5" y1="1613.3" x2="3381" y2="1613.3" stroke="#111" stroke-width="1.2"/>
<text transform="translate(2888.5,1483) rotate(-90)" font-size="18.4" text-anchor="middle">Time (s)</text>
<text x="2107.9" y="1714.0" font-size="12.6" text-anchor="middle">Perplexity (log)</text>
<text x="2028.6" y="1732.5" font-size="12" text-anchor="end">7.227</text>
<line x1="2030.6" y1="1728.5" x2="2033.6" y2="1728.5" stroke="#333" stroke-width="0.8"/>
<text x="2028.6" y="1796.6" font-size="12" text-anchor="end">4.818</text>
<line x1="2030.6" y1="1792.6" x2="2033.6" y2="1792.6" stroke="#333" stroke-width="0.8"/>
<text x="2028.6" y="1860.8" font-size="12" text-anchor="end">2.409</text>
<line x1="2030.6" y1="1856.8" x2="2033.6" y2="1856.8" stroke="#333" stroke-width="0.8"/>
<text x="2028.6" y="1925.6" font-size="12" text-anchor="end">0.000</text>
<line x1="2030.6" y1="1921.6" x2="2033.6" y2="1921.6" stroke="#333" stroke-width="0.8"/>
<rect x="2040.8" y="1733.0" width="38.6" height="188.6" fill="#ee5350"/>
<rect x="2089.2" y="1729.1" width="38.6" height="192.5" fill="#42a5f5"/>
<rect x="2137.6" y="1728.5" width="38.6" height="193.1" fill="#fbc02d"/>
<rect x="2033.6" y="1718.6" width="148.6" height="203.0" fill="none" stroke="#444" stroke-width="0.9"/>
<text x="2301.7" y="1714.0" font-size="12.6" text-anchor="middle">Window_entropy</text>
<text x="2227.6" y="1716.5" font-size="10.5">×10<tspan font-size="7.5" dy="-4.5">−5</tspan></text>
<text x="2221.1" y="1732.5" font-size="12" text-anchor="end">7.47</text>
<line x1="2223.1" y1="1728.5" x2="2226.1" y2="1728.5" stroke="#333" stroke-width="0.8"/>
<text x="2221.1" y="1796.6" font-size="12" text-anchor="end">4.98</text>
<line x1="2223.1" y1="1792.6" x2="2226.1" y2="1792.6" stroke="#333" stroke-width="0.8"/>
<text x="2221.1" y="1860.8" font-size="12" text-anchor="end">2.49</text>
<line x1="2223.1" y1="1856.8" x2="2226.1" y2="1856.8" stroke="#333" stroke-width="0.8"/>
<text x="2221.1" y="1925.6" font-size="12" text-anchor="end">0.00</text>
<line x1="2223.1" y1="1921.6" x2="2226.1" y2="1921.6" stroke="#333" stroke-width="0.8"/>
<rect x="2233.3" y="1729.1" width="38.6" height="192.5" fill="#ee5350"/>
<rect x="2281.7" y="1729.1" width="38.6" height="192.5" fill="#42a5f5"/>
<rect x="2330.1" y="1729.1" width="38.6" height="192.5" fill="#fbc02d"/>
<rect x="2226.1" y="1718.6" width="149.2" height="203.0" fill="none" stroke="#444" stroke-width="0.9"/>
<text x="2494.2" y="1714.0" font-size="12.6" text-anchor="middle">Logit_entropy</text>
<text x="2420.1" y="1716.5" font-size="10.5">×10<tspan font-size="7.5" dy="-4.5">−3</tspan></text>
<text x="2413.6" y="1732.5" font-size="12" text-anchor="end">9.133</text>
<line x1="2415.6" y1="1728.5" x2="2418.6" y2="1728.5" stroke="#333" stroke-width="0.8"/>
<text x="2413.6" y="1796.6" font-size="12" text-anchor="end">6.089</text>
<line x1="2415.6" y1="1792.6" x2="2418.6" y2="1792.6" stroke="#333" stroke-width="0.8"/>
<text x="2413.6" y="1860.8" font-size="12" text-anchor="end">3.044</text>
<line x1="2415.6" y1="1856.8" x2="2418.6" y2="1856.8" stroke="#333" stroke-width="0.8"/>
<text x="2413.6" y="1925.6" font-size="12" text-anchor="end">0.000</text>
<line x1="2415.6" y1="1921.6" x2="2418.6" y2="1921.6" stroke="#333" stroke-width="0.8"/>
<rect x="2425.8" y="1737.6" width="38.6" height="184.0" fill="#ee5350"/>
<rect x="2474.2" y="1729.1" width="38.6" height="192.5" fill="#42a5f5"/>
<rect x="2522.6" y="1737.0" width="38.6" height="184.6" fill="#fbc02d"/>
<rect x="2418.6" y="1718.6" width="149.3" height="203.0" fill="none" stroke="#444" stroke-width="0.9"/>
<text x="2686.0" y="1714.0" font-size="12.6" text-anchor="middle">Hidden_score</text>
<text x="2606.7" y="1732.5" font-size="12" text-anchor="end">7.525</text>
<line x1="2608.7" y1="1728.5" x2="2611.7" y2="1728.5" stroke="#333" stroke-width="0.8"/>
<text x="2606.7" y="1796.6" font-size="12" text-anchor="end">5.017</text>
<line x1="2608.7" y1="1792.6" x2="2611.7" y2="1792.6" stroke="#333" stroke-width="0.8"/>
<text x="2606.7" y="1860.8" font-size="12" text-anchor="end">2.508</text>
<line x1="2608.7" y1="1856.8" x2="2611.7" y2="1856.8" stroke="#333" stroke-width="0.8"/>
<text x="2606.7" y="1925.6" font-size="12" text-anchor="end">0.000</text>
<line x1="2608.7" y1="1921.6" x2="2611.7" y2="1921.6" stroke="#333" stroke-width="0.8"/>
<rect x="2618.9" y="1739.6" width="38.6" height="182.0" fill="#ee5350"/>
<rect x="2667.3" y="1729.1" width="38.6" height="192.5" fill="#42a5f5"/>
<rect x="2715.7" y="1731.7" width="38.6" height="189.9" fill="#fbc02d"/>
<rect x="2611.7" y="1718.6" width="148.6" height="203.0" fill="none" stroke="#444" stroke-width="0.9"/>
<text x="2878.8" y="1714.0" font-size="12.6" text-anchor="middle">Attention_score (absolute)</text>
<text x="2799.2" y="1732.5" font-size="12" text-anchor="end">3.891</text>
<line x1="2801.2" y1="1728.5" x2="2804.2" y2="1728.5" stroke="#333" stroke-width="0.8"/>
<text x="2799.2" y="1796.6" font-size="12" text-anchor="end">2.594</text>
<line x1="2801.2" y1="1792.6" x2="2804.2" y2="1792.6" stroke="#333" stroke-width="0.8"/>
<text x="2799.2" y="1860.8" font-size="12" text-anchor="end">1.297</text>
<line x1="2801.2" y1="1856.8" x2="2804.2" y2="1856.8" stroke="#333" stroke-width="0.8"/>
<text x="2799.2" y="1925.6" font-size="12" text-anchor="end">0.000</text>
<line x1="2801.2" y1="1921.6" x2="2804.2" y2="1921.6" stroke="#333" stroke-width="0.8"/>
<rect x="2811.4" y="1729.1" width="38.6" height="192.5" fill="#ee5350"/>
<rect x="2859.8" y="1730.4" width="38.6" height="191.2" fill="#42a5f5"/>
<rect x="2908.2" y="1730.4" width="38.6" height="191.2" fill="#fbc02d"/>
<rect x="2804.2" y="1718.6" width="149.3" height="203.0" fill="none" stroke="#444" stroke-width="0.9"/>
<ellipse cx="3071.6" cy="1820" rx="14.8" ry="16.7" fill="none" stroke="#e2e2e2" stroke-width="0.9"/>
<ellipse cx="3071.6" cy="1820" rx="29.6" ry="33.5" fill="none" stroke="#e2e2e2" stroke-width="0.9"/>
<ellipse cx="3071.6" cy="1820" rx="44.5" ry="50.2" fill="none" stroke="#e2e2e2" stroke-width="0.9"/>
<ellipse cx="3071.6" cy="1820" rx="59.3" ry="67.0" fill="none" stroke="#e2e2e2" stroke-width="0.9"/>
<ellipse cx="3071.6" cy="1820" rx="74.1" ry="83.7" fill="none" stroke="#e2e2e2" stroke-width="0.9"/>
<line x1="3071.6" y1="1820" x2="3145.7" y2="1820.0" stroke="#e6e6e6" stroke-width="0.8"/>
<line x1="3071.6" y1="1820" x2="3094.5" y2="1740.4" stroke="#e6e6e6" stroke-width="0.8"/>
<line x1="3071.6" y1="1820" x2="3011.7" y2="1770.8" stroke="#e6e6e6" stroke-width="0.8"/>
<line x1="3071.6" y1="1820" x2="3011.7" y2="1869.2" stroke="#e6e6e6" stroke-width="0.8"/>
<line x1="3071.6" y1="1820" x2="3094.5" y2="1899.6" stroke="#e6e6e6" stroke-width="0.8"/>
<polygon points="3079.9,1820.0 3074.0,1811.8 3018.2,1776.2 3017.6,1864.3 3092.4,1892.3" fill="#42a5f5" fill-opacity="0.1" stroke="#42a5f5" stroke-width="2" stroke-linejoin="miter"/>
<polygon points="3115.4,1820.0 3081.8,1784.4 3040.7,1794.7 3047.3,1840.0 3083.5,1861.4" fill="#fbc02d" fill-opacity="0.1" stroke="#fbc02d" stroke-width="2" stroke-linejoin="miter"/>
<polygon points="3139.3,1820.0 3092.2,1748.4 3065.2,1814.7 3065.0,1825.4 3074.1,1828.6" fill="#ee5350" fill-opacity="0.1" stroke="#ee5350" stroke-width="2" stroke-linejoin="miter"/>
<text x="3072.0" y="1712.7" font-size="12.6" text-anchor="middle">CLAWS</text>
<text x="3097.5" y="1733.7" font-size="12.6" text-anchor="middle">P</text>
<text x="3155.2" y="1822.7" font-size="12.6" text-anchor="middle">G</text>
<text x="3097.5" y="1912.4" font-size="12.6" text-anchor="middle">R</text>
<text x="3004.6" y="1877.7" font-size="12.6" text-anchor="middle">I</text>
<text x="3004.6" y="1768.4" font-size="12.6" text-anchor="middle">S</text>
<rect x="3175.5" y="1701.6" width="112" height="66" rx="3" fill="#fff" stroke="#ddd" stroke-width="1"/>
<line x1="3180" y1="1713.0" x2="3206.5" y2="1713.0" stroke="#ee5350" stroke-width="2.3"/>
<text x="3216.0" y="1717.3" font-size="13">Hallucinated</text>
<line x1="3180" y1="1734.0" x2="3206.5" y2="1734.0" stroke="#42a5f5" stroke-width="2.3"/>
<text x="3216.0" y="1738.3" font-size="13">Typical</text>
<line x1="3180" y1="1754.9" x2="3206.5" y2="1754.9" stroke="#fbc02d" stroke-width="2.3"/>
<text x="3216.0" y="1759.2" font-size="13">Creative</text>
</svg>
<div class="t sans" style="left:3150.3px;transform:translateX(-50%);top:1649.0px;font-size:21.47px;"><b>Figure 5.</b> Average runtime per methods</div>
<div class="t sans" style="left:2644.8px;transform:translateX(-50%);top:1944.3px;font-size:21.35px;"><b>Figure 4.</b> Visualization of class-wise average scores for each method (Qwen2.5-math-7B-inst)</div>
<div class="t sans" style="left:68.3px;top:2209.8px;font-size:20.7px;color:#32363e;letter-spacing:-0.65px;">NEURAL INFORMATION</div>
<div class="t sans" style="left:68.3px;top:2231.7px;font-size:20.7px;color:#32363e;letter-spacing:-0.65px;">PROCESSING SYSTEMS</div>
<svg style="left:0;top:0;overflow:visible" width="1" height="1">
<defs><linearGradient id="aig" x1="0" y1="0" x2="1" y2="1"><stop offset="0" stop-color="#ececec"/><stop offset="1" stop-color="#a9abb3"/></linearGradient></defs>
<g transform="translate(1233.7,2228.1) scale(0.93,1.07)"><circle cx="0" cy="0" r="29.5" fill="#0e4a84"/><circle cx="0" cy="0" r="27.7" fill="none" stroke="#fff" stroke-width="0.9"/><circle cx="0" cy="0" r="19.3" fill="#fff"/><path id="sealarc" d="M -18.63 9.91 A 21.1 21.1 0 1 1 18.63 9.91" fill="none"/><text font-family="Liberation Sans, sans-serif" font-size="7" font-weight="bold" fill="#fff" letter-spacing="0.55"><textPath href="#sealarc" startOffset="50%" text-anchor="middle">HANYANG UNIVERSITY</textPath></text><rect x="-11" y="-9" width="22" height="12.5" rx="2.5" fill="#0e4a84"/><text x="0" y="0.6" font-family="NanumGothic, Noto Sans CJK KR, sans-serif" font-size="9" font-weight="bold" fill="#fff" text-anchor="middle">한양</text><text x="0" y="12" font-family="Liberation Sans, sans-serif" font-size="5.2" fill="#0e4a84" text-anchor="middle">1939</text><ellipse cx="17.9" cy="16.1" rx="1.9" ry="1.2" transform="rotate(132 17.9 16.1)" fill="#fff"/><ellipse cx="12.8" cy="20.4" rx="1.9" ry="1.2" transform="rotate(148 12.8 20.4)" fill="#fff"/><ellipse cx="6.6" cy="23.2" rx="1.9" ry="1.2" transform="rotate(164 6.6 23.2)" fill="#fff"/><ellipse cx="-6.6" cy="23.2" rx="1.9" ry="1.2" transform="rotate(196 -6.6 23.2)" fill="#fff"/><ellipse cx="-12.8" cy="20.4" rx="1.9" ry="1.2" transform="rotate(212 -12.8 20.4)" fill="#fff"/><ellipse cx="-17.9" cy="16.1" rx="1.9" ry="1.2" transform="rotate(228 -17.9 16.1)" fill="#fff"/><circle cx="0" cy="24.1" r="0.9" fill="#fff"/></g>
<circle cx="1670.7" cy="2230.1" r="28.5" fill="url(#aig)" stroke="#9a9ca6" stroke-width="1"/>
<clipPath id="aic"><circle cx="1670.7" cy="2230.1" r="27.7"/></clipPath><path clip-path="url(#aic)" d="M1671.0 2204.2999999999997 L1692.5 2251.2999999999997 L1650.0 2251.2999999999997 Z" fill="#3d3f8f"/>
<path d="M1671.2 2251.1 V2228.1 a4.2 4.2 0 1 1 4.2 4.2 a2.2 2.2 0 1 1 0 -4.4" fill="none" stroke="#fff" stroke-width="3"/>
<text x="1670.7" y="2259.5" font-family="Liberation Serif, serif" font-weight="bold" font-size="10.5" fill="#2c2e73" text-anchor="middle">HYU</text>
</svg>
<div class="t sans" id="hyu" style="left:1268.5px;top:2205.3px;font-size:51px;font-weight:bold;color:#0e4a84;transform:scaleX(0.578);transform-origin:left;letter-spacing:1.5px;-webkit-text-stroke:1px #0e4a84;">HANYANG UNIVERSITY</div>
<div class="t sans" id="ail" style="left:1711.7px;top:2213.1px;font-size:35.5px;font-weight:bold;color:#4a4e9a;letter-spacing:0.33px;">Artificial Intelligence Laboratory</div>
<div class="t sans" id="ctc" style="left:2409.9px;top:2212.2px;font-size:34.8px;color:#8c8c8c;"><b>Contact us</b>: <u>ktkpv94@hanyang.ac.kr</u>, <u>jeh0826@hanyang.ac.kr</u></div>
</body>
</html>
